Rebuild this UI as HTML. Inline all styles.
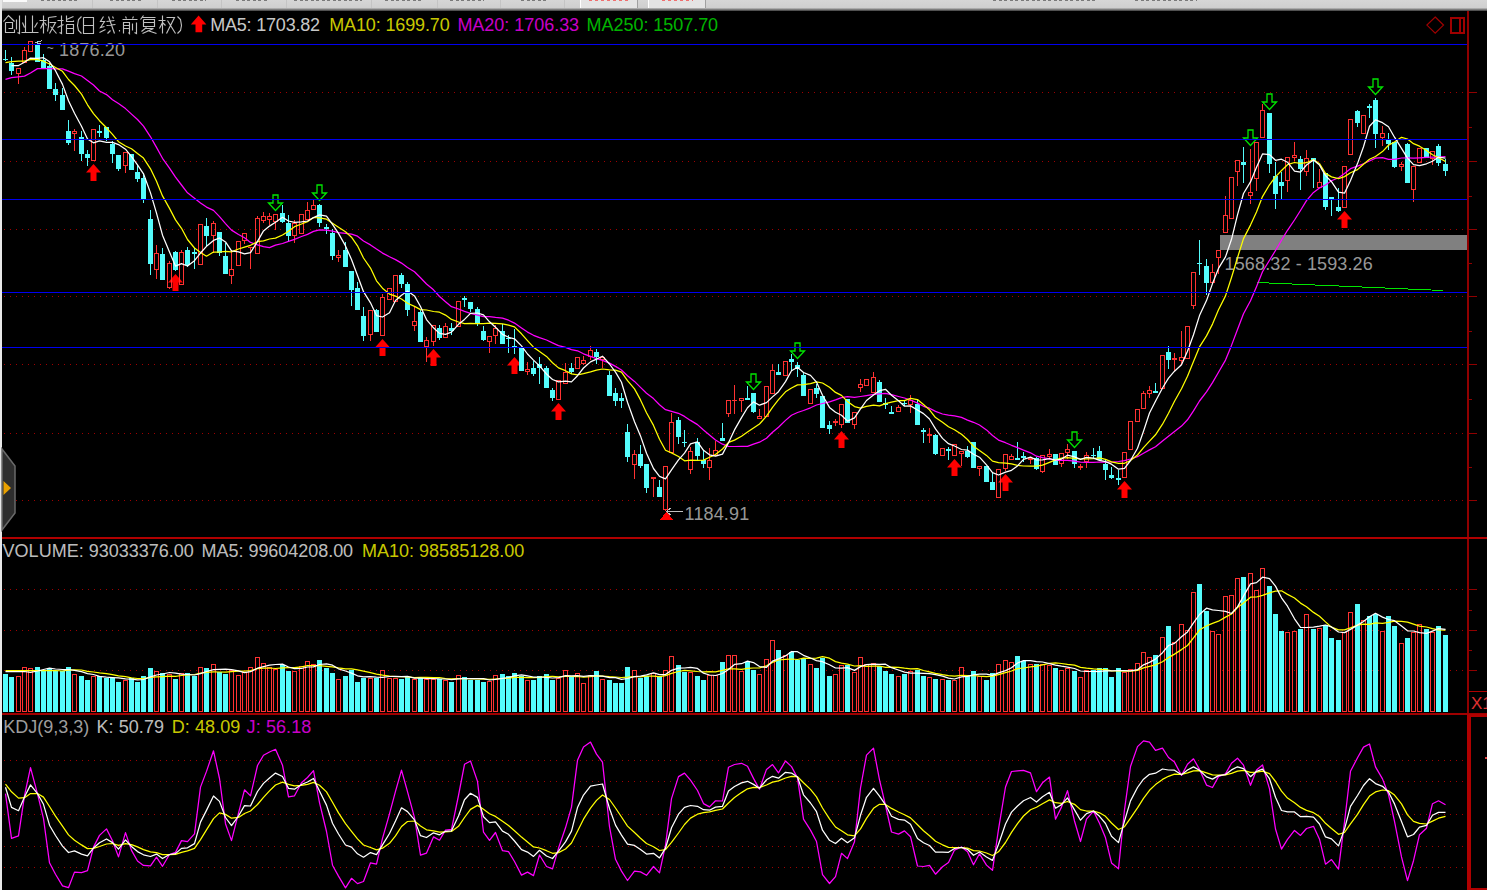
<!DOCTYPE html><html><head><meta charset="utf-8"><style>html,body{margin:0;padding:0;background:#000;overflow:hidden}body{width:1487px;height:890px;position:relative}svg{position:absolute;left:0;top:0}</style></head><body><svg width="1487" height="890" viewBox="0 0 1487 890" shape-rendering="crispEdges" font-family="Liberation Sans, sans-serif"><rect width="1487" height="890" fill="#000"/><defs><linearGradient id="tg" x1="0" y1="0" x2="0" y2="1"><stop offset="0" stop-color="#d6d6d6"/><stop offset="0.7" stop-color="#cfcfcf"/><stop offset="1" stop-color="#3a3a3a"/></linearGradient></defs><rect x="0" y="0" width="1487" height="11" fill="url(#tg)"/><rect x="3" y="0" width="24" height="2" fill="#fafafa"/><rect x="580" y="0" width="58" height="8" fill="#e4e4e4"/><rect x="648" y="0" width="58" height="8" fill="#e4e4e4"/><rect x="580" y="0" width="1" height="8" fill="#ffffff"/><rect x="637" y="0" width="1" height="8" fill="#a0a0a0"/><rect x="648" y="0" width="1" height="8" fill="#ffffff"/><rect x="705" y="0" width="1" height="8" fill="#a0a0a0"/><line x1="41" y1="0.75" x2="78" y2="0.75" stroke="#7a7a7a" stroke-width="1.2" stroke-dasharray="3 2.5"/><line x1="110" y1="0.75" x2="142" y2="0.75" stroke="#7a7a7a" stroke-width="1.2" stroke-dasharray="3 2.5"/><line x1="172" y1="0.75" x2="206" y2="0.75" stroke="#7a7a7a" stroke-width="1.2" stroke-dasharray="3 2.5"/><line x1="236" y1="0.75" x2="268" y2="0.75" stroke="#7a7a7a" stroke-width="1.2" stroke-dasharray="3 2.5"/><line x1="294" y1="0.75" x2="362" y2="0.75" stroke="#7a7a7a" stroke-width="1.2" stroke-dasharray="3 2.5"/><line x1="385" y1="0.75" x2="421" y2="0.75" stroke="#7a7a7a" stroke-width="1.2" stroke-dasharray="3 2.5"/><line x1="450" y1="0.75" x2="484" y2="0.75" stroke="#7a7a7a" stroke-width="1.2" stroke-dasharray="3 2.5"/><line x1="521" y1="0.75" x2="549" y2="0.75" stroke="#7a7a7a" stroke-width="1.2" stroke-dasharray="3 2.5"/><line x1="993" y1="0.75" x2="1097" y2="0.75" stroke="#7a7a7a" stroke-width="1.2" stroke-dasharray="3 2.5"/><line x1="1135" y1="0.75" x2="1197" y2="0.75" stroke="#7a7a7a" stroke-width="1.2" stroke-dasharray="3 2.5"/><line x1="589" y1="0.75" x2="628" y2="0.75" stroke="#f07070" stroke-width="1.2" stroke-dasharray="3 3"/><line x1="662" y1="0.75" x2="693" y2="0.75" stroke="#f07070" stroke-width="1.2" stroke-dasharray="3 3"/><rect x="92" y="0" width="1" height="8" fill="#c4c4c4"/><rect x="157" y="0" width="1" height="8" fill="#c4c4c4"/><rect x="221" y="0" width="1" height="8" fill="#c4c4c4"/><rect x="286" y="0" width="1" height="8" fill="#c4c4c4"/><rect x="371" y="0" width="1" height="8" fill="#c4c4c4"/><rect x="437" y="0" width="1" height="8" fill="#c4c4c4"/><rect x="500" y="0" width="1" height="8" fill="#c4c4c4"/><rect x="564" y="0" width="1" height="8" fill="#c4c4c4"/><rect x="0" y="0" width="2" height="890" fill="#e8e8e8"/><line x1="4" y1="92.5" x2="1466" y2="92.5" stroke="#a00000" stroke-width="1" stroke-dasharray="1 5"/><line x1="4" y1="161.5" x2="1466" y2="161.5" stroke="#a00000" stroke-width="1" stroke-dasharray="1 5"/><line x1="4" y1="229.5" x2="1466" y2="229.5" stroke="#a00000" stroke-width="1" stroke-dasharray="1 5"/><line x1="4" y1="296.5" x2="1466" y2="296.5" stroke="#a00000" stroke-width="1" stroke-dasharray="1 5"/><line x1="4" y1="364.5" x2="1466" y2="364.5" stroke="#a00000" stroke-width="1" stroke-dasharray="1 5"/><line x1="4" y1="433.5" x2="1466" y2="433.5" stroke="#a00000" stroke-width="1" stroke-dasharray="1 5"/><line x1="4" y1="500.5" x2="1466" y2="500.5" stroke="#a00000" stroke-width="1" stroke-dasharray="1 5"/><line x1="4" y1="589.5" x2="1466" y2="589.5" stroke="#a00000" stroke-width="1" stroke-dasharray="1 5"/><line x1="4" y1="630.5" x2="1466" y2="630.5" stroke="#a00000" stroke-width="1" stroke-dasharray="1 5"/><line x1="4" y1="670.5" x2="1466" y2="670.5" stroke="#a00000" stroke-width="1" stroke-dasharray="1 5"/><line x1="4" y1="760.5" x2="1466" y2="760.5" stroke="#a00000" stroke-width="1" stroke-dasharray="1 5"/><line x1="4" y1="781.5" x2="1466" y2="781.5" stroke="#a00000" stroke-width="1" stroke-dasharray="1 5"/><line x1="4" y1="814.5" x2="1466" y2="814.5" stroke="#a00000" stroke-width="1" stroke-dasharray="1 5"/><line x1="4" y1="846.5" x2="1466" y2="846.5" stroke="#a00000" stroke-width="1" stroke-dasharray="1 5"/><line x1="4" y1="867.5" x2="1466" y2="867.5" stroke="#a00000" stroke-width="1" stroke-dasharray="1 5"/><rect x="1467" y="11" width="2" height="879" fill="#900000"/><rect x="1469" y="92" width="8" height="1" fill="#900000"/><rect x="1469" y="161" width="8" height="1" fill="#900000"/><rect x="1469" y="229" width="8" height="1" fill="#900000"/><rect x="1469" y="296" width="8" height="1" fill="#900000"/><rect x="1469" y="364" width="8" height="1" fill="#900000"/><rect x="1469" y="433" width="8" height="1" fill="#900000"/><rect x="1469" y="500" width="8" height="1" fill="#900000"/><rect x="1469" y="127" width="3" height="1" fill="#900000"/><rect x="1469" y="196" width="3" height="1" fill="#900000"/><rect x="1469" y="263" width="3" height="1" fill="#900000"/><rect x="1469" y="331" width="3" height="1" fill="#900000"/><rect x="1469" y="399" width="3" height="1" fill="#900000"/><rect x="1469" y="467" width="3" height="1" fill="#900000"/><rect x="1469" y="589" width="8" height="1" fill="#900000"/><rect x="1469" y="630" width="8" height="1" fill="#900000"/><rect x="1469" y="670" width="8" height="1" fill="#900000"/><rect x="1469" y="610" width="3" height="1" fill="#900000"/><rect x="1469" y="650" width="3" height="1" fill="#900000"/><rect x="2" y="537" width="1485" height="2" fill="#b00000"/><rect x="2" y="713" width="1485" height="2" fill="#a00000"/><rect x="1469" y="691" width="18" height="1" fill="#b00000"/><text x="1471" y="709" font-size="17" fill="#e03030">X1</text><rect x="1467" y="714" width="4" height="176" fill="#b00000"/><rect x="1467" y="714" width="20" height="3" fill="#b00000"/><rect x="1471" y="888" width="16" height="2" fill="#b00000"/><rect x="1485" y="757" width="2" height="1.5" fill="#e04040"/><path d="M1435.2,17 L1443.5,25.1 L1435.2,33.2 L1426.9,25.1 Z" fill="none" stroke="#a00000" stroke-width="1.2" shape-rendering="auto"/><rect x="1450.5" y="18" width="13.5" height="15" fill="none" stroke="#a00000" stroke-width="2"/><rect x="1459" y="18" width="1.5" height="15" fill="#a00000"/><rect x="1220" y="235" width="247" height="15" fill="#808080"/><g shape-rendering="auto"><text x="1224.60" y="270.3" font-size="18" textLength="148.14" lengthAdjust="spacing" fill="#c0c0c0" fill-opacity="0.8" xml:space="preserve">1568.32 - 1593.26</text></g><polyline points="1257,282.5 1443,290.5" fill="none" stroke="#00e600" stroke-width="1"/><path shape-rendering="auto" d="M86.0,172.5 L93.5,164 L101.0,172.5 L96.5,172.5 L96.5,181 L90.5,181 L90.5,172.5 Z" fill="#ff0000"/><path shape-rendering="auto" d="M168.0,282.5 L175.5,274 L183.0,282.5 L178.5,282.5 L178.5,291 L172.5,291 L172.5,282.5 Z" fill="#ff0000"/><path shape-rendering="auto" d="M375.0,347.5 L382.5,339 L390.0,347.5 L385.5,347.5 L385.5,356 L379.5,356 L379.5,347.5 Z" fill="#ff0000"/><path shape-rendering="auto" d="M426.0,357.5 L433.5,349 L441.0,357.5 L436.5,357.5 L436.5,366 L430.5,366 L430.5,357.5 Z" fill="#ff0000"/><path shape-rendering="auto" d="M507.0,365.5 L514.5,357 L522.0,365.5 L517.5,365.5 L517.5,374 L511.5,374 L511.5,365.5 Z" fill="#ff0000"/><path shape-rendering="auto" d="M551.0,411.5 L558.5,403 L566.0,411.5 L561.5,411.5 L561.5,420 L555.5,420 L555.5,411.5 Z" fill="#ff0000"/><path shape-rendering="auto" d="M834.0,439.5 L841.5,431 L849.0,439.5 L844.5,439.5 L844.5,448 L838.5,448 L838.5,439.5 Z" fill="#ff0000"/><path shape-rendering="auto" d="M947.0,467.5 L954.5,459 L962.0,467.5 L957.5,467.5 L957.5,476 L951.5,476 L951.5,467.5 Z" fill="#ff0000"/><path shape-rendering="auto" d="M998.0,482.5 L1005.5,474 L1013.0,482.5 L1008.5,482.5 L1008.5,491 L1002.5,491 L1002.5,482.5 Z" fill="#ff0000"/><path shape-rendering="auto" d="M1117.0,489.5 L1124.5,481 L1132.0,489.5 L1127.5,489.5 L1127.5,498 L1121.5,498 L1121.5,489.5 Z" fill="#ff0000"/><path shape-rendering="auto" d="M1337.0,219.5 L1344.5,211 L1352.0,219.5 L1347.5,219.5 L1347.5,228 L1341.5,228 L1341.5,219.5 Z" fill="#ff0000"/><path shape-rendering="auto" d="M273.0,195.0 L278.0,195.0 L278.0,203.0 L282.5,203.0 L275.5,210.5 L268.5,203.0 L273.0,203.0 Z" fill="none" stroke="#00e600" stroke-width="1.3"/><path shape-rendering="auto" d="M317.0,185.0 L322.0,185.0 L322.0,193.0 L326.5,193.0 L319.5,200.5 L312.5,193.0 L317.0,193.0 Z" fill="none" stroke="#00e600" stroke-width="1.3"/><path shape-rendering="auto" d="M751.0,374.0 L756.0,374.0 L756.0,382.0 L760.5,382.0 L753.5,389.5 L746.5,382.0 L751.0,382.0 Z" fill="none" stroke="#00e600" stroke-width="1.3"/><path shape-rendering="auto" d="M795.0,343.0 L800.0,343.0 L800.0,351.0 L804.5,351.0 L797.5,358.5 L790.5,351.0 L795.0,351.0 Z" fill="none" stroke="#00e600" stroke-width="1.3"/><path shape-rendering="auto" d="M1072.0,432.0 L1077.0,432.0 L1077.0,440.0 L1081.5,440.0 L1074.5,447.5 L1067.5,440.0 L1072.0,440.0 Z" fill="none" stroke="#00e600" stroke-width="1.3"/><path shape-rendering="auto" d="M1248.0,130.0 L1253.0,130.0 L1253.0,138.0 L1257.5,138.0 L1250.5,145.5 L1243.5,138.0 L1248.0,138.0 Z" fill="none" stroke="#00e600" stroke-width="1.3"/><path shape-rendering="auto" d="M1267.0,94.0 L1272.0,94.0 L1272.0,102.0 L1276.5,102.0 L1269.5,109.5 L1262.5,102.0 L1267.0,102.0 Z" fill="none" stroke="#00e600" stroke-width="1.3"/><path shape-rendering="auto" d="M1373.0,79.0 L1378.0,79.0 L1378.0,87.0 L1382.5,87.0 L1375.5,94.5 L1368.5,87.0 L1373.0,87.0 Z" fill="none" stroke="#00e600" stroke-width="1.3"/><rect x="5" y="50" width="1" height="9" fill="#54fcfc"/><rect x="5" y="60" width="1" height="1" fill="#54fcfc"/><rect x="3" y="59" width="5" height="1" fill="#54fcfc"/><rect x="11" y="57" width="1" height="6" fill="#54fcfc"/><rect x="11" y="71" width="1" height="4" fill="#54fcfc"/><rect x="9" y="63" width="5" height="8" fill="#54fcfc"/><rect x="18" y="74" width="1" height="10" fill="#ff3232"/><rect x="16.5" y="68.5" width="4" height="5" fill="none" stroke="#ff3232"/><rect x="24" y="47" width="1" height="3" fill="#ff3232"/><rect x="22.5" y="50.5" width="4" height="12" fill="none" stroke="#ff3232"/><rect x="28.5" y="41.5" width="4" height="10" fill="none" stroke="#ff3232"/><rect x="37" y="41" width="1" height="4" fill="#54fcfc"/><rect x="35" y="45" width="5" height="17" fill="#54fcfc"/><rect x="43" y="54" width="1" height="6" fill="#54fcfc"/><rect x="41" y="60" width="5" height="8" fill="#54fcfc"/><rect x="49" y="63" width="1" height="3" fill="#54fcfc"/><rect x="47" y="66" width="5" height="23" fill="#54fcfc"/><rect x="55" y="83" width="1" height="6" fill="#54fcfc"/><rect x="55" y="95" width="1" height="6" fill="#54fcfc"/><rect x="53" y="89" width="5" height="6" fill="#54fcfc"/><rect x="62" y="88" width="1" height="7" fill="#54fcfc"/><rect x="60" y="95" width="5" height="15" fill="#54fcfc"/><rect x="68" y="120" width="1" height="11" fill="#54fcfc"/><rect x="68" y="143" width="1" height="2" fill="#54fcfc"/><rect x="66" y="131" width="5" height="12" fill="#54fcfc"/><rect x="74" y="129" width="1" height="2" fill="#ff3232"/><rect x="74" y="134" width="1" height="17" fill="#ff3232"/><rect x="72.5" y="131.5" width="4" height="2" fill="none" stroke="#ff3232"/><rect x="81" y="131" width="1" height="6" fill="#54fcfc"/><rect x="81" y="154" width="1" height="7" fill="#54fcfc"/><rect x="79" y="137" width="5" height="17" fill="#54fcfc"/><rect x="87" y="150" width="1" height="4" fill="#54fcfc"/><rect x="87" y="158" width="1" height="8" fill="#54fcfc"/><rect x="85" y="154" width="5" height="4" fill="#54fcfc"/><rect x="91.5" y="129.5" width="4" height="31" fill="none" stroke="#ff3232"/><rect x="99" y="125" width="1" height="6" fill="#54fcfc"/><rect x="99" y="133" width="1" height="4" fill="#54fcfc"/><rect x="97" y="131" width="5" height="2" fill="#54fcfc"/><rect x="106" y="138" width="1" height="3" fill="#54fcfc"/><rect x="104" y="127" width="5" height="11" fill="#54fcfc"/><rect x="112" y="141" width="1" height="3" fill="#54fcfc"/><rect x="112" y="154" width="1" height="9" fill="#54fcfc"/><rect x="110" y="144" width="5" height="10" fill="#54fcfc"/><rect x="118" y="169" width="1" height="2" fill="#54fcfc"/><rect x="116" y="155" width="5" height="14" fill="#54fcfc"/><rect x="125" y="166" width="1" height="7" fill="#ff3232"/><rect x="123.5" y="152.5" width="4" height="13" fill="none" stroke="#ff3232"/><rect x="129" y="154" width="5" height="16" fill="#54fcfc"/><rect x="137" y="165" width="1" height="7" fill="#54fcfc"/><rect x="137" y="179" width="1" height="3" fill="#54fcfc"/><rect x="135" y="172" width="5" height="7" fill="#54fcfc"/><rect x="143" y="173" width="1" height="5" fill="#54fcfc"/><rect x="143" y="199" width="1" height="4" fill="#54fcfc"/><rect x="141" y="178" width="5" height="21" fill="#54fcfc"/><rect x="150" y="210" width="1" height="9" fill="#54fcfc"/><rect x="150" y="264" width="1" height="11" fill="#54fcfc"/><rect x="148" y="219" width="5" height="45" fill="#54fcfc"/><rect x="156" y="245" width="1" height="8" fill="#ff3232"/><rect x="156" y="270" width="1" height="9" fill="#ff3232"/><rect x="154.5" y="253.5" width="4" height="16" fill="none" stroke="#ff3232"/><rect x="162" y="248" width="1" height="6" fill="#54fcfc"/><rect x="160" y="254" width="5" height="26" fill="#54fcfc"/><rect x="169" y="261" width="1" height="2" fill="#ff3232"/><rect x="169" y="288" width="1" height="1" fill="#ff3232"/><rect x="167.5" y="263.5" width="4" height="24" fill="none" stroke="#ff3232"/><rect x="175" y="251" width="1" height="1" fill="#54fcfc"/><rect x="175" y="270" width="1" height="1" fill="#54fcfc"/><rect x="173" y="252" width="5" height="18" fill="#54fcfc"/><rect x="181" y="250" width="1" height="2" fill="#ff3232"/><rect x="179.5" y="252.5" width="4" height="32" fill="none" stroke="#ff3232"/><rect x="187" y="247" width="1" height="3" fill="#54fcfc"/><rect x="187" y="265" width="1" height="2" fill="#54fcfc"/><rect x="185" y="250" width="5" height="15" fill="#54fcfc"/><rect x="194" y="248" width="1" height="4" fill="#54fcfc"/><rect x="194" y="254" width="1" height="15" fill="#54fcfc"/><rect x="192" y="252" width="5" height="2" fill="#54fcfc"/><rect x="198.5" y="224.5" width="4" height="40" fill="none" stroke="#ff3232"/><rect x="206" y="218" width="1" height="8" fill="#54fcfc"/><rect x="206" y="236" width="1" height="10" fill="#54fcfc"/><rect x="204" y="226" width="5" height="10" fill="#54fcfc"/><rect x="213" y="221" width="1" height="2" fill="#ff3232"/><rect x="213" y="236" width="1" height="17" fill="#ff3232"/><rect x="211.5" y="223.5" width="4" height="12" fill="none" stroke="#ff3232"/><rect x="219" y="253" width="1" height="3" fill="#54fcfc"/><rect x="217" y="232" width="5" height="21" fill="#54fcfc"/><rect x="225" y="243" width="1" height="13" fill="#54fcfc"/><rect x="223" y="256" width="5" height="18" fill="#54fcfc"/><rect x="231" y="250" width="1" height="19" fill="#ff3232"/><rect x="231" y="276" width="1" height="8" fill="#ff3232"/><rect x="229.5" y="269.5" width="4" height="6" fill="none" stroke="#ff3232"/><rect x="236.5" y="241.5" width="4" height="24" fill="none" stroke="#ff3232"/><rect x="244" y="241" width="1" height="3" fill="#ff3232"/><rect x="242.5" y="233.5" width="4" height="7" fill="none" stroke="#ff3232"/><rect x="250" y="248" width="1" height="21" fill="#ff3232"/><rect x="248" y="247" width="5" height="1" fill="#ff3232"/><rect x="257" y="216" width="1" height="2" fill="#ff3232"/><rect x="255.5" y="218.5" width="4" height="35" fill="none" stroke="#ff3232"/><rect x="263" y="212" width="1" height="4" fill="#ff3232"/><rect x="263" y="221" width="1" height="2" fill="#ff3232"/><rect x="261.5" y="216.5" width="4" height="4" fill="none" stroke="#ff3232"/><rect x="269" y="213" width="1" height="3" fill="#ff3232"/><rect x="269" y="220" width="1" height="5" fill="#ff3232"/><rect x="267.5" y="216.5" width="4" height="3" fill="none" stroke="#ff3232"/><rect x="275" y="222" width="1" height="8" fill="#ff3232"/><rect x="273.5" y="214.5" width="4" height="7" fill="none" stroke="#ff3232"/><rect x="282" y="205" width="1" height="8" fill="#54fcfc"/><rect x="282" y="222" width="1" height="1" fill="#54fcfc"/><rect x="280" y="213" width="5" height="9" fill="#54fcfc"/><rect x="288" y="215" width="1" height="8" fill="#54fcfc"/><rect x="288" y="236" width="1" height="5" fill="#54fcfc"/><rect x="286" y="223" width="5" height="13" fill="#54fcfc"/><rect x="294" y="220" width="1" height="3" fill="#ff3232"/><rect x="294" y="236" width="1" height="7" fill="#ff3232"/><rect x="292.5" y="223.5" width="4" height="12" fill="none" stroke="#ff3232"/><rect x="299.5" y="214.5" width="4" height="19" fill="none" stroke="#ff3232"/><rect x="307" y="202" width="1" height="8" fill="#ff3232"/><rect x="305.5" y="210.5" width="4" height="9" fill="none" stroke="#ff3232"/><rect x="313" y="200" width="1" height="5" fill="#ff3232"/><rect x="311.5" y="205.5" width="4" height="4" fill="none" stroke="#ff3232"/><rect x="319" y="204" width="1" height="1" fill="#54fcfc"/><rect x="319" y="223" width="1" height="4" fill="#54fcfc"/><rect x="317" y="205" width="5" height="18" fill="#54fcfc"/><rect x="326" y="224" width="1" height="3" fill="#54fcfc"/><rect x="326" y="229" width="1" height="5" fill="#54fcfc"/><rect x="324" y="227" width="5" height="2" fill="#54fcfc"/><rect x="332" y="229" width="1" height="4" fill="#54fcfc"/><rect x="332" y="256" width="1" height="4" fill="#54fcfc"/><rect x="330" y="233" width="5" height="23" fill="#54fcfc"/><rect x="338" y="250" width="1" height="5" fill="#ff3232"/><rect x="338" y="258" width="1" height="4" fill="#ff3232"/><rect x="336.5" y="255.5" width="4" height="2" fill="none" stroke="#ff3232"/><rect x="345" y="242" width="1" height="8" fill="#54fcfc"/><rect x="343" y="250" width="5" height="17" fill="#54fcfc"/><rect x="351" y="290" width="1" height="16" fill="#54fcfc"/><rect x="349" y="271" width="5" height="19" fill="#54fcfc"/><rect x="357" y="282" width="1" height="6" fill="#54fcfc"/><rect x="355" y="288" width="5" height="22" fill="#54fcfc"/><rect x="363" y="307" width="1" height="9" fill="#54fcfc"/><rect x="363" y="336" width="1" height="5" fill="#54fcfc"/><rect x="361" y="316" width="5" height="20" fill="#54fcfc"/><rect x="370" y="335" width="1" height="6" fill="#ff3232"/><rect x="368.5" y="310.5" width="4" height="24" fill="none" stroke="#ff3232"/><rect x="376" y="309" width="1" height="1" fill="#54fcfc"/><rect x="374" y="310" width="5" height="22" fill="#54fcfc"/><rect x="382" y="294" width="1" height="3" fill="#ff3232"/><rect x="380.5" y="297.5" width="4" height="38" fill="none" stroke="#ff3232"/><rect x="387.5" y="288.5" width="4" height="11" fill="none" stroke="#ff3232"/><rect x="393.5" y="275.5" width="4" height="26" fill="none" stroke="#ff3232"/><rect x="401" y="273" width="1" height="2" fill="#54fcfc"/><rect x="401" y="284" width="1" height="4" fill="#54fcfc"/><rect x="399" y="275" width="5" height="9" fill="#54fcfc"/><rect x="407" y="282" width="1" height="2" fill="#54fcfc"/><rect x="407" y="310" width="1" height="6" fill="#54fcfc"/><rect x="405" y="284" width="5" height="26" fill="#54fcfc"/><rect x="414" y="306" width="1" height="15" fill="#ff3232"/><rect x="414" y="326" width="1" height="5" fill="#ff3232"/><rect x="412.5" y="321.5" width="4" height="4" fill="none" stroke="#ff3232"/><rect x="420" y="310" width="1" height="2" fill="#54fcfc"/><rect x="418" y="312" width="5" height="30" fill="#54fcfc"/><rect x="426" y="337" width="1" height="3" fill="#ff3232"/><rect x="426" y="347" width="1" height="15" fill="#ff3232"/><rect x="424.5" y="340.5" width="4" height="6" fill="none" stroke="#ff3232"/><rect x="433" y="342" width="1" height="4" fill="#ff3232"/><rect x="431.5" y="325.5" width="4" height="16" fill="none" stroke="#ff3232"/><rect x="439" y="325" width="1" height="3" fill="#54fcfc"/><rect x="439" y="338" width="1" height="2" fill="#54fcfc"/><rect x="437" y="328" width="5" height="10" fill="#54fcfc"/><rect x="445" y="323" width="1" height="3" fill="#ff3232"/><rect x="443.5" y="326.5" width="4" height="11" fill="none" stroke="#ff3232"/><rect x="451" y="323" width="1" height="5" fill="#54fcfc"/><rect x="451" y="331" width="1" height="4" fill="#54fcfc"/><rect x="449" y="328" width="5" height="3" fill="#54fcfc"/><rect x="456.5" y="301.5" width="4" height="25" fill="none" stroke="#ff3232"/><rect x="464" y="296" width="1" height="2" fill="#54fcfc"/><rect x="464" y="300" width="1" height="7" fill="#54fcfc"/><rect x="462" y="298" width="5" height="2" fill="#54fcfc"/><rect x="470" y="309" width="1" height="3" fill="#54fcfc"/><rect x="468" y="302" width="5" height="7" fill="#54fcfc"/><rect x="477" y="307" width="1" height="2" fill="#54fcfc"/><rect x="477" y="324" width="1" height="2" fill="#54fcfc"/><rect x="475" y="309" width="5" height="15" fill="#54fcfc"/><rect x="483" y="326" width="1" height="5" fill="#54fcfc"/><rect x="483" y="340" width="1" height="1" fill="#54fcfc"/><rect x="481" y="331" width="5" height="9" fill="#54fcfc"/><rect x="489" y="342" width="1" height="11" fill="#ff3232"/><rect x="487.5" y="336.5" width="4" height="5" fill="none" stroke="#ff3232"/><rect x="495" y="325" width="1" height="3" fill="#ff3232"/><rect x="495" y="336" width="1" height="8" fill="#ff3232"/><rect x="493.5" y="328.5" width="4" height="7" fill="none" stroke="#ff3232"/><rect x="502" y="324" width="1" height="7" fill="#54fcfc"/><rect x="500" y="331" width="5" height="13" fill="#54fcfc"/><rect x="508" y="335" width="1" height="3" fill="#54fcfc"/><rect x="508" y="339" width="1" height="14" fill="#54fcfc"/><rect x="506" y="338" width="5" height="1" fill="#54fcfc"/><rect x="514" y="329" width="1" height="17" fill="#54fcfc"/><rect x="514" y="348" width="1" height="6" fill="#54fcfc"/><rect x="512" y="346" width="5" height="2" fill="#54fcfc"/><rect x="519" y="347" width="5" height="24" fill="#54fcfc"/><rect x="527" y="362" width="1" height="7" fill="#ff3232"/><rect x="527" y="372" width="1" height="3" fill="#ff3232"/><rect x="525.5" y="369.5" width="4" height="2" fill="none" stroke="#ff3232"/><rect x="533" y="361" width="1" height="7" fill="#54fcfc"/><rect x="533" y="374" width="1" height="2" fill="#54fcfc"/><rect x="531" y="368" width="5" height="6" fill="#54fcfc"/><rect x="539" y="357" width="1" height="7" fill="#54fcfc"/><rect x="539" y="368" width="1" height="16" fill="#54fcfc"/><rect x="537" y="364" width="5" height="4" fill="#54fcfc"/><rect x="546" y="366" width="1" height="2" fill="#54fcfc"/><rect x="544" y="368" width="5" height="20" fill="#54fcfc"/><rect x="552" y="388" width="1" height="2" fill="#54fcfc"/><rect x="552" y="398" width="1" height="3" fill="#54fcfc"/><rect x="550" y="390" width="5" height="8" fill="#54fcfc"/><rect x="556.5" y="380.5" width="4" height="19" fill="none" stroke="#ff3232"/><rect x="565" y="363" width="1" height="9" fill="#ff3232"/><rect x="563.5" y="372.5" width="4" height="11" fill="none" stroke="#ff3232"/><rect x="571" y="363" width="1" height="5" fill="#54fcfc"/><rect x="571" y="372" width="1" height="2" fill="#54fcfc"/><rect x="569" y="368" width="5" height="4" fill="#54fcfc"/><rect x="575.5" y="357.5" width="4" height="11" fill="none" stroke="#ff3232"/><rect x="583" y="356" width="1" height="4" fill="#ff3232"/><rect x="583" y="364" width="1" height="1" fill="#ff3232"/><rect x="581.5" y="360.5" width="4" height="3" fill="none" stroke="#ff3232"/><rect x="590" y="346" width="1" height="4" fill="#ff3232"/><rect x="590" y="357" width="1" height="3" fill="#ff3232"/><rect x="588.5" y="350.5" width="4" height="6" fill="none" stroke="#ff3232"/><rect x="596" y="349" width="1" height="3" fill="#54fcfc"/><rect x="596" y="357" width="1" height="7" fill="#54fcfc"/><rect x="594" y="352" width="5" height="5" fill="#54fcfc"/><rect x="602" y="360" width="1" height="8" fill="#ff3232"/><rect x="600.5" y="357.5" width="4" height="2" fill="none" stroke="#ff3232"/><rect x="609" y="371" width="1" height="4" fill="#54fcfc"/><rect x="607" y="375" width="5" height="21" fill="#54fcfc"/><rect x="615" y="388" width="1" height="5" fill="#54fcfc"/><rect x="615" y="401" width="1" height="5" fill="#54fcfc"/><rect x="613" y="393" width="5" height="8" fill="#54fcfc"/><rect x="621" y="393" width="1" height="5" fill="#54fcfc"/><rect x="621" y="401" width="1" height="7" fill="#54fcfc"/><rect x="619" y="398" width="5" height="3" fill="#54fcfc"/><rect x="627" y="424" width="1" height="8" fill="#54fcfc"/><rect x="627" y="457" width="1" height="5" fill="#54fcfc"/><rect x="625" y="432" width="5" height="25" fill="#54fcfc"/><rect x="634" y="450" width="1" height="4" fill="#ff3232"/><rect x="634" y="465" width="1" height="14" fill="#ff3232"/><rect x="632.5" y="454.5" width="4" height="10" fill="none" stroke="#ff3232"/><rect x="640" y="445" width="1" height="9" fill="#54fcfc"/><rect x="640" y="466" width="1" height="2" fill="#54fcfc"/><rect x="638" y="454" width="5" height="12" fill="#54fcfc"/><rect x="646" y="488" width="1" height="5" fill="#54fcfc"/><rect x="644" y="464" width="5" height="24" fill="#54fcfc"/><rect x="653" y="479" width="1" height="18" fill="#ff3232"/><rect x="651" y="477" width="5" height="2" fill="#ff3232"/><rect x="659" y="480" width="1" height="7" fill="#54fcfc"/><rect x="657" y="487" width="5" height="10" fill="#54fcfc"/><rect x="665" y="510" width="1" height="1" fill="#ff3232"/><rect x="663.5" y="466.5" width="4" height="43" fill="none" stroke="#ff3232"/><rect x="671" y="413" width="1" height="9" fill="#ff3232"/><rect x="669.5" y="422.5" width="4" height="30" fill="none" stroke="#ff3232"/><rect x="678" y="417" width="1" height="3" fill="#54fcfc"/><rect x="678" y="437" width="1" height="7" fill="#54fcfc"/><rect x="676" y="420" width="5" height="17" fill="#54fcfc"/><rect x="684" y="430" width="1" height="12" fill="#54fcfc"/><rect x="684" y="443" width="1" height="4" fill="#54fcfc"/><rect x="682" y="442" width="5" height="1" fill="#54fcfc"/><rect x="690" y="447" width="1" height="4" fill="#ff3232"/><rect x="690" y="470" width="1" height="4" fill="#ff3232"/><rect x="688.5" y="451.5" width="4" height="18" fill="none" stroke="#ff3232"/><rect x="697" y="438" width="1" height="4" fill="#54fcfc"/><rect x="697" y="456" width="1" height="5" fill="#54fcfc"/><rect x="695" y="442" width="5" height="14" fill="#54fcfc"/><rect x="703" y="450" width="1" height="10" fill="#54fcfc"/><rect x="703" y="464" width="1" height="4" fill="#54fcfc"/><rect x="701" y="460" width="5" height="4" fill="#54fcfc"/><rect x="709" y="448" width="1" height="12" fill="#ff3232"/><rect x="709" y="468" width="1" height="12" fill="#ff3232"/><rect x="707.5" y="460.5" width="4" height="7" fill="none" stroke="#ff3232"/><rect x="715" y="441" width="1" height="9" fill="#ff3232"/><rect x="713.5" y="450.5" width="4" height="5" fill="none" stroke="#ff3232"/><rect x="722" y="423" width="1" height="15" fill="#54fcfc"/><rect x="720" y="438" width="5" height="3" fill="#54fcfc"/><rect x="728" y="414" width="1" height="3" fill="#ff3232"/><rect x="726.5" y="400.5" width="4" height="13" fill="none" stroke="#ff3232"/><rect x="734" y="385" width="1" height="15" fill="#ff3232"/><rect x="734" y="401" width="1" height="13" fill="#ff3232"/><rect x="732" y="400" width="5" height="1" fill="#ff3232"/><rect x="741" y="401" width="1" height="11" fill="#ff3232"/><rect x="739.5" y="398.5" width="4" height="2" fill="none" stroke="#ff3232"/><rect x="747" y="386" width="1" height="12" fill="#54fcfc"/><rect x="745" y="398" width="5" height="2" fill="#54fcfc"/><rect x="753" y="412" width="1" height="1" fill="#54fcfc"/><rect x="751" y="393" width="5" height="19" fill="#54fcfc"/><rect x="759" y="409" width="1" height="7" fill="#ff3232"/><rect x="757.5" y="416.5" width="4" height="2" fill="none" stroke="#ff3232"/><rect x="764.5" y="386.5" width="4" height="30" fill="none" stroke="#ff3232"/><rect x="772" y="364" width="1" height="6" fill="#ff3232"/><rect x="770.5" y="370.5" width="4" height="23" fill="none" stroke="#ff3232"/><rect x="778" y="364" width="1" height="8" fill="#54fcfc"/><rect x="776" y="372" width="5" height="3" fill="#54fcfc"/><rect x="783.5" y="361.5" width="4" height="14" fill="none" stroke="#ff3232"/><rect x="791" y="354" width="1" height="5" fill="#54fcfc"/><rect x="791" y="362" width="1" height="9" fill="#54fcfc"/><rect x="789" y="359" width="5" height="3" fill="#54fcfc"/><rect x="797" y="362" width="1" height="3" fill="#54fcfc"/><rect x="797" y="368" width="1" height="9" fill="#54fcfc"/><rect x="795" y="365" width="5" height="3" fill="#54fcfc"/><rect x="803" y="373" width="1" height="2" fill="#54fcfc"/><rect x="801" y="375" width="5" height="21" fill="#54fcfc"/><rect x="808.5" y="389.5" width="4" height="14" fill="none" stroke="#ff3232"/><rect x="816" y="384" width="1" height="4" fill="#54fcfc"/><rect x="816" y="394" width="1" height="4" fill="#54fcfc"/><rect x="814" y="388" width="5" height="6" fill="#54fcfc"/><rect x="820" y="396" width="5" height="32" fill="#54fcfc"/><rect x="829" y="421" width="1" height="4" fill="#54fcfc"/><rect x="829" y="429" width="1" height="5" fill="#54fcfc"/><rect x="827" y="425" width="5" height="4" fill="#54fcfc"/><rect x="835" y="419" width="1" height="2" fill="#ff3232"/><rect x="835" y="423" width="1" height="3" fill="#ff3232"/><rect x="833" y="421" width="5" height="2" fill="#ff3232"/><rect x="841" y="425" width="1" height="3" fill="#ff3232"/><rect x="839.5" y="404.5" width="4" height="20" fill="none" stroke="#ff3232"/><rect x="845" y="399" width="5" height="24" fill="#54fcfc"/><rect x="854" y="425" width="1" height="4" fill="#ff3232"/><rect x="852.5" y="412.5" width="4" height="12" fill="none" stroke="#ff3232"/><rect x="860" y="379" width="1" height="5" fill="#ff3232"/><rect x="860" y="388" width="1" height="4" fill="#ff3232"/><rect x="858.5" y="384.5" width="4" height="3" fill="none" stroke="#ff3232"/><rect x="864.5" y="379.5" width="4" height="6" fill="none" stroke="#ff3232"/><rect x="873" y="372" width="1" height="5" fill="#ff3232"/><rect x="871.5" y="377.5" width="4" height="15" fill="none" stroke="#ff3232"/><rect x="879" y="380" width="1" height="2" fill="#54fcfc"/><rect x="877" y="382" width="5" height="20" fill="#54fcfc"/><rect x="885" y="398" width="1" height="5" fill="#54fcfc"/><rect x="885" y="405" width="1" height="4" fill="#54fcfc"/><rect x="883" y="403" width="5" height="2" fill="#54fcfc"/><rect x="891" y="406" width="1" height="6" fill="#54fcfc"/><rect x="889" y="412" width="5" height="2" fill="#54fcfc"/><rect x="898" y="405" width="1" height="2" fill="#ff3232"/><rect x="896.5" y="407.5" width="4" height="4" fill="none" stroke="#ff3232"/><rect x="904" y="400" width="1" height="3" fill="#54fcfc"/><rect x="904" y="404" width="1" height="2" fill="#54fcfc"/><rect x="902" y="403" width="5" height="1" fill="#54fcfc"/><rect x="910" y="395" width="1" height="5" fill="#ff3232"/><rect x="910" y="405" width="1" height="8" fill="#ff3232"/><rect x="908.5" y="400.5" width="4" height="4" fill="none" stroke="#ff3232"/><rect x="917" y="399" width="1" height="5" fill="#54fcfc"/><rect x="915" y="404" width="5" height="21" fill="#54fcfc"/><rect x="923" y="428" width="1" height="2" fill="#54fcfc"/><rect x="923" y="432" width="1" height="11" fill="#54fcfc"/><rect x="921" y="430" width="5" height="2" fill="#54fcfc"/><rect x="929" y="428" width="1" height="6" fill="#ff3232"/><rect x="929" y="436" width="1" height="7" fill="#ff3232"/><rect x="927" y="434" width="5" height="2" fill="#ff3232"/><rect x="935" y="434" width="1" height="1" fill="#54fcfc"/><rect x="935" y="454" width="1" height="1" fill="#54fcfc"/><rect x="933" y="435" width="5" height="19" fill="#54fcfc"/><rect x="940.5" y="448.5" width="4" height="7" fill="none" stroke="#ff3232"/><rect x="948" y="447" width="1" height="2" fill="#54fcfc"/><rect x="948" y="451" width="1" height="9" fill="#54fcfc"/><rect x="946" y="449" width="5" height="2" fill="#54fcfc"/><rect x="952.5" y="444.5" width="4" height="11" fill="none" stroke="#ff3232"/><rect x="961" y="454" width="1" height="12" fill="#ff3232"/><rect x="959.5" y="451.5" width="4" height="2" fill="none" stroke="#ff3232"/><rect x="967" y="446" width="1" height="5" fill="#54fcfc"/><rect x="967" y="457" width="1" height="1" fill="#54fcfc"/><rect x="965" y="451" width="5" height="6" fill="#54fcfc"/><rect x="971" y="442" width="5" height="26" fill="#54fcfc"/><rect x="979" y="469" width="1" height="7" fill="#ff3232"/><rect x="977.5" y="466.5" width="4" height="2" fill="none" stroke="#ff3232"/><rect x="984" y="466" width="5" height="16" fill="#54fcfc"/><rect x="992" y="472" width="1" height="10" fill="#54fcfc"/><rect x="990" y="482" width="5" height="8" fill="#54fcfc"/><rect x="996.5" y="469.5" width="4" height="28" fill="none" stroke="#ff3232"/><rect x="1005" y="469" width="1" height="2" fill="#ff3232"/><rect x="1003.5" y="454.5" width="4" height="14" fill="none" stroke="#ff3232"/><rect x="1011" y="454" width="1" height="2" fill="#ff3232"/><rect x="1009.5" y="456.5" width="4" height="3" fill="none" stroke="#ff3232"/><rect x="1017" y="442" width="1" height="16" fill="#54fcfc"/><rect x="1015" y="458" width="5" height="2" fill="#54fcfc"/><rect x="1023" y="452" width="1" height="4" fill="#54fcfc"/><rect x="1023" y="458" width="1" height="4" fill="#54fcfc"/><rect x="1021" y="456" width="5" height="2" fill="#54fcfc"/><rect x="1030" y="460" width="1" height="4" fill="#ff3232"/><rect x="1028" y="458" width="5" height="2" fill="#ff3232"/><rect x="1036" y="457" width="1" height="1" fill="#54fcfc"/><rect x="1036" y="469" width="1" height="1" fill="#54fcfc"/><rect x="1034" y="458" width="5" height="11" fill="#54fcfc"/><rect x="1042" y="472" width="1" height="1" fill="#ff3232"/><rect x="1040.5" y="455.5" width="4" height="16" fill="none" stroke="#ff3232"/><rect x="1049" y="449" width="1" height="5" fill="#ff3232"/><rect x="1049" y="457" width="1" height="1" fill="#ff3232"/><rect x="1047.5" y="454.5" width="4" height="2" fill="none" stroke="#ff3232"/><rect x="1053" y="454" width="5" height="11" fill="#54fcfc"/><rect x="1061" y="464" width="1" height="3" fill="#ff3232"/><rect x="1059.5" y="453.5" width="4" height="10" fill="none" stroke="#ff3232"/><rect x="1067" y="444" width="1" height="5" fill="#ff3232"/><rect x="1067" y="453" width="1" height="6" fill="#ff3232"/><rect x="1065.5" y="449.5" width="4" height="3" fill="none" stroke="#ff3232"/><rect x="1074" y="464" width="1" height="4" fill="#54fcfc"/><rect x="1072" y="451" width="5" height="13" fill="#54fcfc"/><rect x="1080" y="464" width="1" height="2" fill="#ff3232"/><rect x="1080" y="468" width="1" height="2" fill="#ff3232"/><rect x="1078" y="466" width="5" height="2" fill="#ff3232"/><rect x="1086" y="452" width="1" height="3" fill="#ff3232"/><rect x="1086" y="462" width="1" height="6" fill="#ff3232"/><rect x="1084.5" y="455.5" width="4" height="6" fill="none" stroke="#ff3232"/><rect x="1093" y="448" width="1" height="7" fill="#54fcfc"/><rect x="1093" y="456" width="1" height="3" fill="#54fcfc"/><rect x="1091" y="455" width="5" height="1" fill="#54fcfc"/><rect x="1099" y="446" width="1" height="5" fill="#54fcfc"/><rect x="1099" y="460" width="1" height="1" fill="#54fcfc"/><rect x="1097" y="451" width="5" height="9" fill="#54fcfc"/><rect x="1105" y="460" width="1" height="4" fill="#54fcfc"/><rect x="1105" y="470" width="1" height="10" fill="#54fcfc"/><rect x="1103" y="464" width="5" height="6" fill="#54fcfc"/><rect x="1111" y="467" width="1" height="8" fill="#54fcfc"/><rect x="1111" y="478" width="1" height="1" fill="#54fcfc"/><rect x="1109" y="475" width="5" height="3" fill="#54fcfc"/><rect x="1118" y="470" width="1" height="8" fill="#54fcfc"/><rect x="1118" y="480" width="1" height="5" fill="#54fcfc"/><rect x="1116" y="478" width="5" height="2" fill="#54fcfc"/><rect x="1122.5" y="452.5" width="4" height="25" fill="none" stroke="#ff3232"/><rect x="1128.5" y="421.5" width="4" height="28" fill="none" stroke="#ff3232"/><rect x="1135.5" y="409.5" width="4" height="12" fill="none" stroke="#ff3232"/><rect x="1143" y="391" width="1" height="2" fill="#ff3232"/><rect x="1141.5" y="393.5" width="4" height="15" fill="none" stroke="#ff3232"/><rect x="1149" y="386" width="1" height="4" fill="#ff3232"/><rect x="1149" y="394" width="1" height="4" fill="#ff3232"/><rect x="1147.5" y="390.5" width="4" height="3" fill="none" stroke="#ff3232"/><rect x="1155" y="383" width="1" height="8" fill="#54fcfc"/><rect x="1153" y="391" width="5" height="2" fill="#54fcfc"/><rect x="1160.5" y="355.5" width="4" height="33" fill="none" stroke="#ff3232"/><rect x="1168" y="346" width="1" height="6" fill="#54fcfc"/><rect x="1168" y="360" width="1" height="9" fill="#54fcfc"/><rect x="1166" y="352" width="5" height="8" fill="#54fcfc"/><rect x="1174" y="353" width="1" height="5" fill="#ff3232"/><rect x="1174" y="360" width="1" height="11" fill="#ff3232"/><rect x="1172" y="358" width="5" height="2" fill="#ff3232"/><rect x="1181" y="331" width="1" height="26" fill="#ff3232"/><rect x="1181" y="361" width="1" height="3" fill="#ff3232"/><rect x="1179.5" y="357.5" width="4" height="3" fill="none" stroke="#ff3232"/><rect x="1185.5" y="326.5" width="4" height="32" fill="none" stroke="#ff3232"/><rect x="1193" y="306" width="1" height="3" fill="#ff3232"/><rect x="1191.5" y="272.5" width="4" height="33" fill="none" stroke="#ff3232"/><rect x="1199" y="240" width="1" height="23" fill="#54fcfc"/><rect x="1199" y="264" width="1" height="11" fill="#54fcfc"/><rect x="1197" y="263" width="5" height="1" fill="#54fcfc"/><rect x="1206" y="259" width="1" height="7" fill="#54fcfc"/><rect x="1206" y="283" width="1" height="12" fill="#54fcfc"/><rect x="1204" y="266" width="5" height="17" fill="#54fcfc"/><rect x="1212" y="264" width="1" height="8" fill="#ff3232"/><rect x="1210.5" y="272.5" width="4" height="10" fill="none" stroke="#ff3232"/><rect x="1218" y="258" width="1" height="16" fill="#ff3232"/><rect x="1216.5" y="250.5" width="4" height="7" fill="none" stroke="#ff3232"/><rect x="1225" y="196" width="1" height="19" fill="#ff3232"/><rect x="1223.5" y="215.5" width="4" height="17" fill="none" stroke="#ff3232"/><rect x="1229.5" y="177.5" width="4" height="41" fill="none" stroke="#ff3232"/><rect x="1237" y="172" width="1" height="14" fill="#ff3232"/><rect x="1235.5" y="160.5" width="4" height="11" fill="none" stroke="#ff3232"/><rect x="1243" y="147" width="1" height="15" fill="#54fcfc"/><rect x="1243" y="165" width="1" height="18" fill="#54fcfc"/><rect x="1241" y="162" width="5" height="3" fill="#54fcfc"/><rect x="1250" y="149" width="1" height="43" fill="#ff3232"/><rect x="1250" y="196" width="1" height="8" fill="#ff3232"/><rect x="1248.5" y="192.5" width="4" height="3" fill="none" stroke="#ff3232"/><rect x="1256" y="179" width="1" height="12" fill="#ff3232"/><rect x="1254.5" y="142.5" width="4" height="36" fill="none" stroke="#ff3232"/><rect x="1262" y="104" width="1" height="6" fill="#ff3232"/><rect x="1260.5" y="110.5" width="4" height="27" fill="none" stroke="#ff3232"/><rect x="1269" y="164" width="1" height="9" fill="#54fcfc"/><rect x="1267" y="113" width="5" height="51" fill="#54fcfc"/><rect x="1275" y="162" width="1" height="14" fill="#54fcfc"/><rect x="1275" y="194" width="1" height="15" fill="#54fcfc"/><rect x="1273" y="176" width="5" height="18" fill="#54fcfc"/><rect x="1281" y="172" width="1" height="10" fill="#54fcfc"/><rect x="1281" y="186" width="1" height="13" fill="#54fcfc"/><rect x="1279" y="182" width="5" height="4" fill="#54fcfc"/><rect x="1287" y="181" width="1" height="11" fill="#ff3232"/><rect x="1285.5" y="157.5" width="4" height="23" fill="none" stroke="#ff3232"/><rect x="1294" y="142" width="1" height="13" fill="#ff3232"/><rect x="1294" y="158" width="1" height="3" fill="#ff3232"/><rect x="1292.5" y="155.5" width="4" height="2" fill="none" stroke="#ff3232"/><rect x="1300" y="156" width="1" height="3" fill="#54fcfc"/><rect x="1300" y="169" width="1" height="21" fill="#54fcfc"/><rect x="1298" y="159" width="5" height="10" fill="#54fcfc"/><rect x="1306" y="150" width="1" height="8" fill="#ff3232"/><rect x="1306" y="172" width="1" height="4" fill="#ff3232"/><rect x="1304.5" y="158.5" width="4" height="13" fill="none" stroke="#ff3232"/><rect x="1313" y="161" width="1" height="27" fill="#54fcfc"/><rect x="1311" y="158" width="5" height="3" fill="#54fcfc"/><rect x="1319" y="169" width="1" height="13" fill="#ff3232"/><rect x="1317.5" y="182.5" width="4" height="5" fill="none" stroke="#ff3232"/><rect x="1325" y="207" width="1" height="3" fill="#54fcfc"/><rect x="1323" y="173" width="5" height="34" fill="#54fcfc"/><rect x="1331" y="199" width="1" height="17" fill="#54fcfc"/><rect x="1329" y="197" width="5" height="2" fill="#54fcfc"/><rect x="1338" y="188" width="1" height="19" fill="#54fcfc"/><rect x="1338" y="211" width="1" height="1" fill="#54fcfc"/><rect x="1336" y="207" width="5" height="4" fill="#54fcfc"/><rect x="1342.5" y="166.5" width="4" height="41" fill="none" stroke="#ff3232"/><rect x="1348.5" y="119.5" width="4" height="35" fill="none" stroke="#ff3232"/><rect x="1357" y="110" width="1" height="1" fill="#54fcfc"/><rect x="1357" y="123" width="1" height="4" fill="#54fcfc"/><rect x="1355" y="111" width="5" height="12" fill="#54fcfc"/><rect x="1361.5" y="115.5" width="4" height="18" fill="none" stroke="#ff3232"/><rect x="1369" y="104" width="1" height="2" fill="#54fcfc"/><rect x="1369" y="108" width="1" height="10" fill="#54fcfc"/><rect x="1367" y="106" width="5" height="2" fill="#54fcfc"/><rect x="1375" y="98" width="1" height="2" fill="#54fcfc"/><rect x="1375" y="134" width="1" height="14" fill="#54fcfc"/><rect x="1373" y="100" width="5" height="34" fill="#54fcfc"/><rect x="1382" y="126" width="1" height="7" fill="#ff3232"/><rect x="1382" y="138" width="1" height="8" fill="#ff3232"/><rect x="1380.5" y="133.5" width="4" height="4" fill="none" stroke="#ff3232"/><rect x="1388" y="133" width="1" height="7" fill="#54fcfc"/><rect x="1388" y="144" width="1" height="6" fill="#54fcfc"/><rect x="1386" y="140" width="5" height="4" fill="#54fcfc"/><rect x="1394" y="167" width="1" height="1" fill="#54fcfc"/><rect x="1392" y="142" width="5" height="25" fill="#54fcfc"/><rect x="1401" y="162" width="1" height="2" fill="#ff3232"/><rect x="1401" y="167" width="1" height="4" fill="#ff3232"/><rect x="1399.5" y="164.5" width="4" height="2" fill="none" stroke="#ff3232"/><rect x="1407" y="143" width="1" height="1" fill="#54fcfc"/><rect x="1405" y="144" width="5" height="39" fill="#54fcfc"/><rect x="1413" y="190" width="1" height="12" fill="#ff3232"/><rect x="1411.5" y="166.5" width="4" height="23" fill="none" stroke="#ff3232"/><rect x="1417.5" y="148.5" width="4" height="14" fill="none" stroke="#ff3232"/><rect x="1424" y="148" width="5" height="10" fill="#54fcfc"/><rect x="1432" y="159" width="1" height="6" fill="#ff3232"/><rect x="1430.5" y="151.5" width="4" height="7" fill="none" stroke="#ff3232"/><rect x="1438" y="144" width="1" height="2" fill="#54fcfc"/><rect x="1438" y="163" width="1" height="3" fill="#54fcfc"/><rect x="1436" y="146" width="5" height="17" fill="#54fcfc"/><rect x="1445" y="159" width="1" height="5" fill="#54fcfc"/><rect x="1445" y="171" width="1" height="5" fill="#54fcfc"/><rect x="1443" y="164" width="5" height="7" fill="#54fcfc"/><g shape-rendering="crispEdges"><polyline points="5.5,79.3 11.5,77.7 18.5,76.9 24.5,76.1 30.5,73.0 37.5,68.6 43.5,68.6 49.5,68.7 55.5,68.8 62.5,68.8 68.5,71.2 74.5,73.6 81.5,76.0 87.5,80.5 93.5,85.0 99.5,91.0 106.5,94.6 112.5,99.7 118.5,103.6 125.5,108.6 131.5,114.1 137.5,119.5 143.5,126.1 150.5,136.8 156.5,147.4 162.5,158.3 169.5,168.1 175.5,177.1 181.5,185.0 187.5,192.8 194.5,198.3 200.5,203.0 206.5,207.1 213.5,210.4 219.5,216.6 225.5,223.6 231.5,230.1 238.5,234.5 244.5,237.7 250.5,242.4 257.5,244.8 263.5,246.7 269.5,247.6 275.5,245.1 282.5,243.5 288.5,241.3 294.5,239.3 301.5,236.5 307.5,234.4 313.5,231.4 319.5,229.8 326.5,230.1 332.5,231.1 338.5,232.7 345.5,233.4 351.5,234.2 357.5,236.2 363.5,241.0 370.5,244.9 376.5,249.1 382.5,253.1 389.5,256.7 395.5,259.6 401.5,263.1 407.5,267.5 414.5,271.8 420.5,277.7 426.5,284.0 433.5,289.8 439.5,296.5 445.5,301.7 451.5,306.7 458.5,309.0 464.5,311.3 470.5,313.4 477.5,315.1 483.5,316.6 489.5,316.6 495.5,317.4 502.5,318.1 508.5,320.2 514.5,323.1 521.5,327.9 527.5,332.1 533.5,335.3 539.5,337.7 546.5,340.0 552.5,342.9 558.5,345.6 565.5,347.3 571.5,349.6 577.5,350.8 583.5,353.8 590.5,356.3 596.5,358.7 602.5,360.3 609.5,363.1 615.5,366.4 621.5,370.0 627.5,375.7 634.5,381.4 640.5,387.4 646.5,393.2 653.5,398.6 659.5,404.7 665.5,409.7 671.5,411.4 678.5,413.3 684.5,416.4 690.5,420.4 697.5,424.6 703.5,430.0 709.5,435.0 715.5,440.0 722.5,444.2 728.5,446.3 734.5,446.5 741.5,446.4 747.5,446.4 753.5,444.1 759.5,442.2 766.5,438.2 772.5,432.3 778.5,427.2 785.5,420.4 791.5,415.2 797.5,412.5 803.5,410.5 810.5,407.8 816.5,405.0 822.5,403.5 829.5,401.8 835.5,399.8 841.5,397.6 847.5,396.7 854.5,397.3 860.5,396.5 866.5,395.6 873.5,394.4 879.5,393.9 885.5,393.3 891.5,394.7 898.5,396.5 904.5,398.0 910.5,400.0 917.5,403.1 923.5,406.3 929.5,408.2 935.5,411.4 942.5,414.0 948.5,415.2 954.5,415.9 961.5,417.4 967.5,420.1 973.5,422.3 979.5,425.0 986.5,429.9 992.5,435.5 998.5,440.1 1005.5,442.7 1011.5,445.3 1017.5,447.6 1023.5,450.1 1030.5,452.8 1036.5,456.2 1042.5,457.7 1049.5,458.8 1055.5,460.4 1061.5,460.3 1067.5,460.4 1074.5,461.1 1080.5,462.2 1086.5,462.4 1093.5,462.3 1099.5,462.0 1105.5,462.2 1111.5,462.0 1118.5,461.5 1124.5,460.7 1130.5,459.0 1137.5,456.7 1143.5,453.3 1149.5,449.9 1155.5,446.7 1162.5,441.0 1168.5,436.3 1174.5,431.5 1181.5,426.1 1187.5,419.8 1193.5,410.9 1199.5,401.0 1206.5,391.8 1212.5,382.6 1218.5,372.3 1225.5,360.1 1231.5,345.4 1237.5,329.5 1243.5,313.7 1250.5,300.7 1256.5,286.7 1262.5,271.8 1269.5,260.3 1275.5,250.5 1281.5,240.2 1287.5,230.3 1294.5,220.0 1300.5,210.5 1306.5,200.6 1313.5,192.4 1319.5,187.9 1325.5,185.0 1331.5,180.8 1338.5,177.8 1344.5,173.6 1350.5,168.7 1357.5,166.1 1363.5,163.8 1369.5,161.0 1375.5,158.1 1382.5,157.6 1388.5,159.3 1394.5,159.4 1401.5,158.0 1407.5,157.8 1413.5,158.2 1419.5,157.9 1426.5,157.4 1432.5,157.0 1438.5,157.1 1445.5,156.5" fill="none" stroke="#ff00ff" stroke-width="1.25" stroke-linejoin="round" shape-rendering="auto"/><polyline points="5.5,62.7 11.5,61.6 18.5,61.2 24.5,61.2 30.5,59.6 37.5,59.6 43.5,61.2 49.5,64.0 55.5,67.5 62.5,71.3 68.5,79.5 74.5,85.5 81.5,94.1 87.5,104.8 93.5,113.6 99.5,120.7 106.5,127.8 112.5,134.3 118.5,141.7 125.5,146.0 131.5,148.7 137.5,153.6 143.5,158.1 150.5,168.8 156.5,181.2 162.5,195.9 169.5,208.4 175.5,219.9 181.5,228.3 187.5,239.5 194.5,248.0 200.5,252.5 206.5,256.2 213.5,252.0 219.5,252.0 225.5,251.3 231.5,251.9 238.5,249.0 244.5,247.2 250.5,245.3 257.5,241.7 263.5,240.9 269.5,239.0 275.5,238.1 282.5,235.0 288.5,231.2 294.5,226.7 301.5,224.0 307.5,221.7 313.5,217.5 319.5,217.9 326.5,219.2 332.5,223.2 338.5,227.2 345.5,231.8 351.5,237.2 357.5,245.8 363.5,258.0 370.5,268.1 376.5,280.8 382.5,288.2 389.5,294.1 395.5,296.1 401.5,299.0 407.5,303.3 414.5,306.4 420.5,309.6 426.5,310.0 433.5,311.5 439.5,312.2 445.5,315.1 451.5,319.4 458.5,322.0 464.5,323.6 470.5,323.4 477.5,323.7 483.5,323.6 489.5,323.1 495.5,323.3 502.5,323.9 508.5,325.2 514.5,326.9 521.5,333.8 527.5,340.6 533.5,347.2 539.5,351.6 546.5,356.4 552.5,362.7 558.5,367.9 565.5,370.7 571.5,373.9 577.5,374.8 583.5,373.7 590.5,371.9 596.5,370.1 602.5,369.0 609.5,369.8 615.5,370.1 621.5,372.1 627.5,380.7 634.5,388.9 640.5,399.9 646.5,412.7 653.5,425.4 659.5,439.3 665.5,450.3 671.5,452.9 678.5,456.5 684.5,460.8 690.5,460.1 697.5,460.4 703.5,460.1 709.5,457.3 715.5,454.6 722.5,449.0 728.5,442.3 734.5,440.1 741.5,436.2 747.5,432.0 753.5,428.0 759.5,424.0 766.5,416.2 772.5,407.3 778.5,399.7 785.5,391.8 791.5,388.0 797.5,384.9 803.5,384.7 810.5,383.6 816.5,381.9 822.5,383.0 829.5,387.3 835.5,392.4 841.5,395.4 847.5,401.6 854.5,406.6 860.5,408.1 866.5,406.4 873.5,405.2 879.5,405.9 885.5,403.6 891.5,402.1 898.5,400.6 904.5,400.6 910.5,398.3 917.5,399.6 923.5,404.5 929.5,409.9 935.5,417.6 942.5,422.2 948.5,426.8 954.5,429.8 961.5,434.3 967.5,439.5 973.5,446.3 979.5,450.4 986.5,455.4 992.5,461.1 998.5,462.6 1005.5,463.2 1011.5,463.8 1017.5,465.3 1023.5,466.0 1030.5,466.1 1036.5,466.1 1042.5,465.1 1049.5,462.3 1055.5,459.8 1061.5,458.1 1067.5,457.6 1074.5,458.4 1080.5,459.0 1086.5,458.8 1093.5,458.6 1099.5,457.8 1105.5,459.3 1111.5,461.8 1118.5,463.3 1124.5,463.3 1130.5,460.5 1137.5,455.0 1143.5,447.7 1149.5,441.1 1155.5,434.8 1162.5,424.2 1168.5,413.2 1174.5,401.2 1181.5,388.8 1187.5,376.2 1193.5,361.4 1199.5,346.9 1206.5,335.9 1212.5,324.1 1218.5,309.8 1225.5,295.9 1231.5,277.5 1237.5,257.7 1243.5,238.6 1250.5,225.1 1256.5,212.1 1262.5,196.6 1269.5,184.8 1275.5,176.9 1281.5,170.5 1287.5,164.7 1294.5,162.5 1300.5,163.3 1306.5,162.7 1313.5,159.6 1319.5,163.7 1325.5,173.4 1331.5,176.9 1338.5,178.6 1344.5,176.6 1350.5,172.8 1357.5,169.6 1363.5,164.2 1369.5,159.2 1375.5,156.5 1382.5,151.6 1388.5,145.2 1394.5,142.0 1401.5,137.3 1407.5,139.0 1413.5,143.7 1419.5,146.2 1426.5,150.5 1432.5,154.8 1438.5,157.6 1445.5,161.5" fill="none" stroke="#ffff00" stroke-width="1.25" stroke-linejoin="round" shape-rendering="auto"/><polyline points="11.5,65.5 18.5,65.5 24.5,62.3 30.5,58.1 37.5,58.3 43.5,57.7 49.5,61.8 55.5,70.7 62.5,84.4 68.5,100.7 74.5,113.3 81.5,126.3 87.5,138.9 93.5,142.8 99.5,140.8 106.5,142.3 112.5,142.3 118.5,144.6 125.5,149.2 131.5,156.6 137.5,164.8 143.5,173.8 150.5,192.9 156.5,213.1 162.5,235.2 169.5,252.0 175.5,266.1 181.5,263.6 187.5,266.0 194.5,260.7 200.5,253.0 206.5,246.3 213.5,240.4 219.5,238.0 225.5,241.9 231.5,250.9 238.5,251.8 244.5,253.9 250.5,252.7 257.5,241.4 263.5,230.9 269.5,226.1 275.5,222.3 282.5,217.3 288.5,221.0 294.5,222.4 301.5,221.9 307.5,221.0 313.5,217.6 319.5,214.9 326.5,216.1 332.5,224.4 338.5,233.4 345.5,245.9 351.5,259.5 357.5,275.5 363.5,291.7 370.5,302.8 376.5,315.6 382.5,317.0 389.5,312.8 395.5,300.5 401.5,295.2 407.5,291.0 414.5,295.9 420.5,306.5 426.5,319.6 433.5,327.8 439.5,333.4 445.5,334.3 451.5,332.2 458.5,324.3 464.5,319.4 470.5,313.4 477.5,313.0 483.5,314.9 489.5,321.8 495.5,327.3 502.5,334.4 508.5,337.3 514.5,338.8 521.5,345.9 527.5,354.0 533.5,360.1 539.5,365.9 546.5,374.0 552.5,379.5 558.5,381.8 565.5,381.2 571.5,381.9 577.5,375.7 583.5,368.0 590.5,361.9 596.5,359.1 602.5,356.2 609.5,364.0 615.5,372.1 621.5,382.3 627.5,402.3 634.5,421.7 640.5,435.9 646.5,453.3 653.5,468.5 659.5,476.4 665.5,478.8 671.5,469.9 678.5,459.8 684.5,453.1 690.5,443.9 697.5,441.9 703.5,450.3 709.5,454.8 715.5,456.2 722.5,454.1 728.5,442.8 734.5,429.9 741.5,417.6 747.5,407.7 753.5,401.9 759.5,405.2 766.5,402.6 772.5,396.9 778.5,391.7 785.5,381.6 791.5,370.8 797.5,367.2 803.5,372.5 810.5,375.4 816.5,382.1 822.5,395.2 829.5,407.4 835.5,412.3 841.5,415.3 847.5,421.1 854.5,417.9 860.5,408.9 866.5,400.5 873.5,395.1 879.5,390.7 885.5,389.3 891.5,395.3 898.5,400.8 904.5,406.2 910.5,405.9 917.5,410.0 923.5,413.6 929.5,419.0 935.5,428.9 942.5,438.4 948.5,443.7 954.5,446.0 961.5,449.5 967.5,450.1 973.5,454.2 979.5,457.2 986.5,464.8 992.5,472.6 998.5,475.0 1005.5,472.2 1011.5,470.3 1017.5,465.9 1023.5,459.3 1030.5,457.1 1036.5,460.0 1042.5,459.8 1049.5,458.7 1055.5,460.2 1061.5,459.1 1067.5,455.2 1074.5,456.9 1080.5,459.3 1086.5,457.3 1093.5,458.1 1099.5,460.4 1105.5,461.7 1111.5,464.2 1118.5,469.2 1124.5,468.4 1130.5,460.5 1137.5,448.3 1143.5,431.2 1149.5,413.0 1155.5,401.2 1162.5,388.0 1168.5,378.2 1174.5,371.2 1181.5,364.7 1187.5,351.3 1193.5,334.8 1199.5,315.6 1206.5,300.6 1212.5,283.6 1218.5,268.4 1225.5,256.9 1231.5,239.3 1237.5,214.9 1243.5,193.5 1250.5,181.9 1256.5,167.2 1262.5,153.9 1269.5,154.6 1275.5,160.3 1281.5,159.2 1287.5,162.2 1294.5,171.1 1300.5,172.1 1306.5,165.0 1313.5,160.0 1319.5,165.1 1325.5,175.6 1331.5,181.7 1338.5,192.2 1344.5,193.2 1350.5,180.4 1357.5,163.6 1363.5,146.8 1369.5,126.3 1375.5,119.9 1382.5,122.7 1388.5,126.8 1394.5,137.2 1401.5,148.4 1407.5,158.1 1413.5,164.7 1419.5,165.7 1426.5,163.8 1432.5,161.2 1438.5,157.1 1445.5,158.2" fill="none" stroke="#ffffff" stroke-width="1.25" stroke-linejoin="round" shape-rendering="auto"/></g><path d="M42.5,40.5 L36.5,42.5 L42.5,44.5" fill="none" stroke="#c0c0c0" stroke-width="1"/><line x1="36" y1="44.5" x2="56" y2="44.5" stroke="#c0c0c0"/><g shape-rendering="auto"><text x="59.00" y="56.1" font-size="18" textLength="66.03" lengthAdjust="spacing" fill="#c0c0c0" fill-opacity="0.8" xml:space="preserve">1876.20</text><text x="46.80" y="52.0" font-size="12" textLength="13.10" lengthAdjust="spacing" fill="#c0c0c0" fill-opacity="0.8" xml:space="preserve">~</text></g><path d="M660,519.5 L666.5,512 L673,519.5 Z" fill="#ff0000"/><line x1="666" y1="511.5" x2="683" y2="511.5" stroke="#c0c0c0"/><path d="M670.5,508 L666.5,511.5 L670.5,515" fill="none" stroke="#c0c0c0"/><g shape-rendering="auto"><text x="684.60" y="519.8" font-size="18" textLength="64.58" lengthAdjust="spacing" fill="#c0c0c0" fill-opacity="0.8" xml:space="preserve">1184.91</text></g><rect x="3" y="674" width="5" height="38" fill="#54fcfc"/><rect x="9" y="677" width="5" height="35" fill="#54fcfc"/><rect x="16.5" y="676.5" width="4" height="35" fill="none" stroke="#ff3232"/><rect x="22.5" y="667.5" width="4" height="44" fill="none" stroke="#ff3232"/><rect x="28.5" y="668.5" width="4" height="43" fill="none" stroke="#ff3232"/><rect x="35" y="667" width="5" height="45" fill="#54fcfc"/><rect x="41" y="670" width="5" height="42" fill="#54fcfc"/><rect x="47" y="669" width="5" height="43" fill="#54fcfc"/><rect x="53" y="671" width="5" height="41" fill="#54fcfc"/><rect x="60" y="671" width="5" height="41" fill="#54fcfc"/><rect x="66" y="667" width="5" height="45" fill="#54fcfc"/><rect x="72.5" y="674.5" width="4" height="37" fill="none" stroke="#ff3232"/><rect x="79" y="676" width="5" height="36" fill="#54fcfc"/><rect x="85" y="680" width="5" height="32" fill="#54fcfc"/><rect x="91.5" y="676.5" width="4" height="35" fill="none" stroke="#ff3232"/><rect x="97" y="676" width="5" height="36" fill="#54fcfc"/><rect x="104" y="678" width="5" height="34" fill="#54fcfc"/><rect x="110" y="678" width="5" height="34" fill="#54fcfc"/><rect x="116" y="682" width="5" height="30" fill="#54fcfc"/><rect x="123.5" y="680.5" width="4" height="31" fill="none" stroke="#ff3232"/><rect x="129" y="678" width="5" height="34" fill="#54fcfc"/><rect x="135" y="682" width="5" height="30" fill="#54fcfc"/><rect x="141" y="676" width="5" height="36" fill="#54fcfc"/><rect x="148" y="668" width="5" height="44" fill="#54fcfc"/><rect x="154.5" y="671.5" width="4" height="40" fill="none" stroke="#ff3232"/><rect x="160" y="673" width="5" height="39" fill="#54fcfc"/><rect x="167.5" y="674.5" width="4" height="37" fill="none" stroke="#ff3232"/><rect x="173" y="679" width="5" height="33" fill="#54fcfc"/><rect x="179.5" y="673.5" width="4" height="38" fill="none" stroke="#ff3232"/><rect x="185" y="673" width="5" height="39" fill="#54fcfc"/><rect x="192" y="676" width="5" height="36" fill="#54fcfc"/><rect x="198.5" y="667.5" width="4" height="44" fill="none" stroke="#ff3232"/><rect x="204" y="668" width="5" height="44" fill="#54fcfc"/><rect x="211.5" y="664.5" width="4" height="47" fill="none" stroke="#ff3232"/><rect x="217" y="672" width="5" height="40" fill="#54fcfc"/><rect x="223" y="674" width="5" height="38" fill="#54fcfc"/><rect x="229.5" y="670.5" width="4" height="41" fill="none" stroke="#ff3232"/><rect x="236.5" y="675.5" width="4" height="36" fill="none" stroke="#ff3232"/><rect x="242.5" y="672.5" width="4" height="39" fill="none" stroke="#ff3232"/><rect x="248.5" y="667.5" width="4" height="44" fill="none" stroke="#ff3232"/><rect x="255.5" y="657.5" width="4" height="54" fill="none" stroke="#ff3232"/><rect x="261.5" y="663.5" width="4" height="48" fill="none" stroke="#ff3232"/><rect x="267.5" y="667.5" width="4" height="44" fill="none" stroke="#ff3232"/><rect x="273.5" y="669.5" width="4" height="42" fill="none" stroke="#ff3232"/><rect x="280" y="665" width="5" height="47" fill="#54fcfc"/><rect x="286" y="671" width="5" height="41" fill="#54fcfc"/><rect x="292.5" y="671.5" width="4" height="40" fill="none" stroke="#ff3232"/><rect x="299.5" y="666.5" width="4" height="45" fill="none" stroke="#ff3232"/><rect x="305.5" y="661.5" width="4" height="50" fill="none" stroke="#ff3232"/><rect x="311.5" y="664.5" width="4" height="47" fill="none" stroke="#ff3232"/><rect x="317" y="660" width="5" height="52" fill="#54fcfc"/><rect x="324" y="668" width="5" height="44" fill="#54fcfc"/><rect x="330" y="673" width="5" height="39" fill="#54fcfc"/><rect x="336.5" y="679.5" width="4" height="32" fill="none" stroke="#ff3232"/><rect x="343" y="676" width="5" height="36" fill="#54fcfc"/><rect x="349" y="670" width="5" height="42" fill="#54fcfc"/><rect x="355" y="682" width="5" height="30" fill="#54fcfc"/><rect x="361" y="678" width="5" height="34" fill="#54fcfc"/><rect x="368.5" y="678.5" width="4" height="33" fill="none" stroke="#ff3232"/><rect x="374" y="678" width="5" height="34" fill="#54fcfc"/><rect x="380.5" y="670.5" width="4" height="41" fill="none" stroke="#ff3232"/><rect x="387.5" y="678.5" width="4" height="33" fill="none" stroke="#ff3232"/><rect x="393.5" y="678.5" width="4" height="33" fill="none" stroke="#ff3232"/><rect x="399" y="679" width="5" height="33" fill="#54fcfc"/><rect x="405" y="677" width="5" height="35" fill="#54fcfc"/><rect x="412.5" y="679.5" width="4" height="32" fill="none" stroke="#ff3232"/><rect x="418" y="678" width="5" height="34" fill="#54fcfc"/><rect x="424.5" y="679.5" width="4" height="32" fill="none" stroke="#ff3232"/><rect x="431.5" y="679.5" width="4" height="32" fill="none" stroke="#ff3232"/><rect x="437" y="679" width="5" height="33" fill="#54fcfc"/><rect x="443.5" y="680.5" width="4" height="31" fill="none" stroke="#ff3232"/><rect x="449" y="682" width="5" height="30" fill="#54fcfc"/><rect x="456.5" y="675.5" width="4" height="36" fill="none" stroke="#ff3232"/><rect x="462" y="677" width="5" height="35" fill="#54fcfc"/><rect x="468" y="680" width="5" height="32" fill="#54fcfc"/><rect x="475" y="680" width="5" height="32" fill="#54fcfc"/><rect x="481" y="682" width="5" height="30" fill="#54fcfc"/><rect x="487.5" y="681.5" width="4" height="30" fill="none" stroke="#ff3232"/><rect x="493.5" y="675.5" width="4" height="36" fill="none" stroke="#ff3232"/><rect x="500" y="674" width="5" height="38" fill="#54fcfc"/><rect x="506" y="676" width="5" height="36" fill="#54fcfc"/><rect x="512" y="673" width="5" height="39" fill="#54fcfc"/><rect x="519" y="676" width="5" height="36" fill="#54fcfc"/><rect x="525.5" y="680.5" width="4" height="31" fill="none" stroke="#ff3232"/><rect x="531" y="680" width="5" height="32" fill="#54fcfc"/><rect x="537" y="676" width="5" height="36" fill="#54fcfc"/><rect x="544" y="674" width="5" height="38" fill="#54fcfc"/><rect x="550" y="680" width="5" height="32" fill="#54fcfc"/><rect x="556.5" y="678.5" width="4" height="33" fill="none" stroke="#ff3232"/><rect x="563.5" y="670.5" width="4" height="41" fill="none" stroke="#ff3232"/><rect x="569" y="677" width="5" height="35" fill="#54fcfc"/><rect x="575.5" y="673.5" width="4" height="38" fill="none" stroke="#ff3232"/><rect x="581.5" y="683.5" width="4" height="28" fill="none" stroke="#ff3232"/><rect x="588.5" y="675.5" width="4" height="36" fill="none" stroke="#ff3232"/><rect x="594" y="671" width="5" height="41" fill="#54fcfc"/><rect x="600.5" y="679.5" width="4" height="32" fill="none" stroke="#ff3232"/><rect x="607" y="680" width="5" height="32" fill="#54fcfc"/><rect x="613" y="683" width="5" height="29" fill="#54fcfc"/><rect x="619" y="683" width="5" height="29" fill="#54fcfc"/><rect x="625" y="667" width="5" height="45" fill="#54fcfc"/><rect x="632.5" y="670.5" width="4" height="41" fill="none" stroke="#ff3232"/><rect x="638" y="678" width="5" height="34" fill="#54fcfc"/><rect x="644" y="676" width="5" height="36" fill="#54fcfc"/><rect x="651.5" y="673.5" width="4" height="38" fill="none" stroke="#ff3232"/><rect x="657" y="676" width="5" height="36" fill="#54fcfc"/><rect x="663.5" y="670.5" width="4" height="41" fill="none" stroke="#ff3232"/><rect x="669.5" y="656.5" width="4" height="55" fill="none" stroke="#ff3232"/><rect x="676" y="665" width="5" height="47" fill="#54fcfc"/><rect x="682" y="672" width="5" height="40" fill="#54fcfc"/><rect x="688.5" y="672.5" width="4" height="39" fill="none" stroke="#ff3232"/><rect x="695" y="676" width="5" height="36" fill="#54fcfc"/><rect x="701" y="680" width="5" height="32" fill="#54fcfc"/><rect x="707.5" y="675.5" width="4" height="36" fill="none" stroke="#ff3232"/><rect x="713.5" y="675.5" width="4" height="36" fill="none" stroke="#ff3232"/><rect x="720" y="662" width="5" height="50" fill="#54fcfc"/><rect x="726.5" y="655.5" width="4" height="56" fill="none" stroke="#ff3232"/><rect x="732.5" y="655.5" width="4" height="56" fill="none" stroke="#ff3232"/><rect x="739.5" y="671.5" width="4" height="40" fill="none" stroke="#ff3232"/><rect x="745" y="662" width="5" height="50" fill="#54fcfc"/><rect x="751" y="670" width="5" height="42" fill="#54fcfc"/><rect x="757.5" y="674.5" width="4" height="37" fill="none" stroke="#ff3232"/><rect x="764.5" y="659.5" width="4" height="52" fill="none" stroke="#ff3232"/><rect x="770.5" y="640.5" width="4" height="71" fill="none" stroke="#ff3232"/><rect x="776" y="650" width="5" height="62" fill="#54fcfc"/><rect x="783.5" y="655.5" width="4" height="56" fill="none" stroke="#ff3232"/><rect x="789" y="652" width="5" height="60" fill="#54fcfc"/><rect x="795" y="660" width="5" height="52" fill="#54fcfc"/><rect x="801" y="658" width="5" height="54" fill="#54fcfc"/><rect x="808.5" y="664.5" width="4" height="47" fill="none" stroke="#ff3232"/><rect x="814" y="668" width="5" height="44" fill="#54fcfc"/><rect x="820" y="658" width="5" height="54" fill="#54fcfc"/><rect x="827" y="676" width="5" height="36" fill="#54fcfc"/><rect x="833.5" y="674.5" width="4" height="37" fill="none" stroke="#ff3232"/><rect x="839.5" y="665.5" width="4" height="46" fill="none" stroke="#ff3232"/><rect x="845" y="665" width="5" height="47" fill="#54fcfc"/><rect x="852.5" y="672.5" width="4" height="39" fill="none" stroke="#ff3232"/><rect x="858.5" y="657.5" width="4" height="54" fill="none" stroke="#ff3232"/><rect x="864.5" y="664.5" width="4" height="47" fill="none" stroke="#ff3232"/><rect x="871.5" y="663.5" width="4" height="48" fill="none" stroke="#ff3232"/><rect x="877" y="666" width="5" height="46" fill="#54fcfc"/><rect x="883" y="671" width="5" height="41" fill="#54fcfc"/><rect x="889" y="674" width="5" height="38" fill="#54fcfc"/><rect x="896.5" y="676.5" width="4" height="35" fill="none" stroke="#ff3232"/><rect x="902" y="674" width="5" height="38" fill="#54fcfc"/><rect x="908.5" y="671.5" width="4" height="40" fill="none" stroke="#ff3232"/><rect x="915" y="670" width="5" height="42" fill="#54fcfc"/><rect x="921" y="676" width="5" height="36" fill="#54fcfc"/><rect x="927.5" y="677.5" width="4" height="34" fill="none" stroke="#ff3232"/><rect x="933" y="679" width="5" height="33" fill="#54fcfc"/><rect x="940.5" y="679.5" width="4" height="32" fill="none" stroke="#ff3232"/><rect x="946" y="680" width="5" height="32" fill="#54fcfc"/><rect x="952.5" y="680.5" width="4" height="31" fill="none" stroke="#ff3232"/><rect x="959.5" y="667.5" width="4" height="44" fill="none" stroke="#ff3232"/><rect x="965" y="676" width="5" height="36" fill="#54fcfc"/><rect x="971" y="671" width="5" height="41" fill="#54fcfc"/><rect x="977.5" y="676.5" width="4" height="35" fill="none" stroke="#ff3232"/><rect x="984" y="680" width="5" height="32" fill="#54fcfc"/><rect x="990" y="673" width="5" height="39" fill="#54fcfc"/><rect x="996.5" y="664.5" width="4" height="47" fill="none" stroke="#ff3232"/><rect x="1003.5" y="660.5" width="4" height="51" fill="none" stroke="#ff3232"/><rect x="1009.5" y="662.5" width="4" height="49" fill="none" stroke="#ff3232"/><rect x="1015" y="656" width="5" height="56" fill="#54fcfc"/><rect x="1021" y="661" width="5" height="51" fill="#54fcfc"/><rect x="1028.5" y="664.5" width="4" height="47" fill="none" stroke="#ff3232"/><rect x="1034" y="664" width="5" height="48" fill="#54fcfc"/><rect x="1040.5" y="664.5" width="4" height="47" fill="none" stroke="#ff3232"/><rect x="1047.5" y="665.5" width="4" height="46" fill="none" stroke="#ff3232"/><rect x="1053" y="668" width="5" height="44" fill="#54fcfc"/><rect x="1059.5" y="670.5" width="4" height="41" fill="none" stroke="#ff3232"/><rect x="1065.5" y="668.5" width="4" height="43" fill="none" stroke="#ff3232"/><rect x="1072" y="671" width="5" height="41" fill="#54fcfc"/><rect x="1078.5" y="677.5" width="4" height="34" fill="none" stroke="#ff3232"/><rect x="1084.5" y="670.5" width="4" height="41" fill="none" stroke="#ff3232"/><rect x="1091" y="670" width="5" height="42" fill="#54fcfc"/><rect x="1097" y="668" width="5" height="44" fill="#54fcfc"/><rect x="1103" y="668" width="5" height="44" fill="#54fcfc"/><rect x="1109" y="677" width="5" height="35" fill="#54fcfc"/><rect x="1116" y="668" width="5" height="44" fill="#54fcfc"/><rect x="1122.5" y="672.5" width="4" height="39" fill="none" stroke="#ff3232"/><rect x="1128.5" y="669.5" width="4" height="42" fill="none" stroke="#ff3232"/><rect x="1135.5" y="663.5" width="4" height="48" fill="none" stroke="#ff3232"/><rect x="1141.5" y="652.5" width="4" height="59" fill="none" stroke="#ff3232"/><rect x="1147.5" y="657.5" width="4" height="54" fill="none" stroke="#ff3232"/><rect x="1153" y="655" width="5" height="57" fill="#54fcfc"/><rect x="1160.5" y="637.5" width="4" height="74" fill="none" stroke="#ff3232"/><rect x="1166" y="626" width="5" height="86" fill="#54fcfc"/><rect x="1172.5" y="642.5" width="4" height="69" fill="none" stroke="#ff3232"/><rect x="1179.5" y="624.5" width="4" height="87" fill="none" stroke="#ff3232"/><rect x="1185.5" y="630.5" width="4" height="81" fill="none" stroke="#ff3232"/><rect x="1191.5" y="592.5" width="4" height="119" fill="none" stroke="#ff3232"/><rect x="1197" y="584" width="5" height="128" fill="#54fcfc"/><rect x="1204" y="611" width="5" height="101" fill="#54fcfc"/><rect x="1210.5" y="631.5" width="4" height="80" fill="none" stroke="#ff3232"/><rect x="1216.5" y="634.5" width="4" height="77" fill="none" stroke="#ff3232"/><rect x="1223.5" y="596.5" width="4" height="115" fill="none" stroke="#ff3232"/><rect x="1229.5" y="595.5" width="4" height="116" fill="none" stroke="#ff3232"/><rect x="1235.5" y="578.5" width="4" height="133" fill="none" stroke="#ff3232"/><rect x="1241" y="577" width="5" height="135" fill="#54fcfc"/><rect x="1248.5" y="573.5" width="4" height="138" fill="none" stroke="#ff3232"/><rect x="1254.5" y="590.5" width="4" height="121" fill="none" stroke="#ff3232"/><rect x="1260.5" y="568.5" width="4" height="143" fill="none" stroke="#ff3232"/><rect x="1267" y="586" width="5" height="126" fill="#54fcfc"/><rect x="1273" y="614" width="5" height="98" fill="#54fcfc"/><rect x="1279" y="631" width="5" height="81" fill="#54fcfc"/><rect x="1285.5" y="632.5" width="4" height="79" fill="none" stroke="#ff3232"/><rect x="1292.5" y="631.5" width="4" height="80" fill="none" stroke="#ff3232"/><rect x="1298" y="629" width="5" height="83" fill="#54fcfc"/><rect x="1304.5" y="614.5" width="4" height="97" fill="none" stroke="#ff3232"/><rect x="1311" y="629" width="5" height="83" fill="#54fcfc"/><rect x="1317.5" y="628.5" width="4" height="83" fill="none" stroke="#ff3232"/><rect x="1323" y="625" width="5" height="87" fill="#54fcfc"/><rect x="1329" y="638" width="5" height="74" fill="#54fcfc"/><rect x="1336" y="640" width="5" height="72" fill="#54fcfc"/><rect x="1342.5" y="632.5" width="4" height="79" fill="none" stroke="#ff3232"/><rect x="1348.5" y="612.5" width="4" height="99" fill="none" stroke="#ff3232"/><rect x="1355" y="604" width="5" height="108" fill="#54fcfc"/><rect x="1361.5" y="620.5" width="4" height="91" fill="none" stroke="#ff3232"/><rect x="1367" y="616" width="5" height="96" fill="#54fcfc"/><rect x="1373" y="614" width="5" height="98" fill="#54fcfc"/><rect x="1380.5" y="631.5" width="4" height="80" fill="none" stroke="#ff3232"/><rect x="1386" y="616" width="5" height="96" fill="#54fcfc"/><rect x="1392" y="626" width="5" height="86" fill="#54fcfc"/><rect x="1399.5" y="643.5" width="4" height="68" fill="none" stroke="#ff3232"/><rect x="1405" y="638" width="5" height="74" fill="#54fcfc"/><rect x="1411.5" y="632.5" width="4" height="79" fill="none" stroke="#ff3232"/><rect x="1417.5" y="624.5" width="4" height="87" fill="none" stroke="#ff3232"/><rect x="1424" y="629" width="5" height="83" fill="#54fcfc"/><rect x="1430.5" y="632.5" width="4" height="79" fill="none" stroke="#ff3232"/><rect x="1436" y="626" width="5" height="86" fill="#54fcfc"/><rect x="1443" y="635" width="5" height="77" fill="#54fcfc"/><polyline points="5.5,670.5 11.5,670.5 18.5,670.5 24.5,670.5 30.5,670.5 37.5,670.5 43.5,670.5 49.5,670.5 55.5,670.5 62.5,671.0 68.5,670.2 74.5,669.9 81.5,670.0 87.5,671.3 93.5,672.0 99.5,672.9 106.5,673.7 112.5,674.6 118.5,675.8 125.5,676.7 131.5,677.8 137.5,678.5 143.5,678.6 150.5,677.4 156.5,676.9 162.5,676.6 169.5,676.2 175.5,676.3 181.5,675.5 187.5,674.8 194.5,674.5 200.5,673.1 206.5,672.3 213.5,671.9 219.5,672.0 225.5,672.1 231.5,671.7 238.5,671.2 244.5,671.1 250.5,670.5 257.5,668.7 263.5,668.2 269.5,668.0 275.5,668.5 282.5,667.9 288.5,667.6 294.5,667.7 301.5,666.8 307.5,665.7 313.5,665.5 319.5,665.7 326.5,666.3 332.5,666.9 338.5,667.9 345.5,668.9 351.5,668.8 357.5,669.8 363.5,671.1 370.5,672.7 376.5,674.1 382.5,675.2 389.5,676.1 395.5,676.6 401.5,676.6 407.5,676.8 414.5,677.7 420.5,677.4 426.5,677.4 433.5,677.5 439.5,677.6 445.5,678.6 451.5,678.9 458.5,678.6 464.5,678.5 470.5,678.8 477.5,678.9 483.5,679.2 489.5,679.4 495.5,679.0 502.5,678.5 508.5,678.1 514.5,677.3 521.5,677.4 527.5,677.7 533.5,677.7 539.5,677.3 546.5,676.5 552.5,676.4 558.5,676.8 565.5,676.4 571.5,676.5 577.5,676.5 583.5,677.2 590.5,676.7 596.5,675.8 602.5,676.1 609.5,676.7 615.5,677.0 621.5,677.5 627.5,677.2 634.5,676.5 640.5,676.9 646.5,676.2 653.5,676.1 659.5,676.6 665.5,675.6 671.5,673.3 678.5,671.5 684.5,670.4 690.5,670.9 697.5,671.5 703.5,671.8 709.5,671.6 715.5,671.8 722.5,670.4 728.5,668.9 734.5,668.8 741.5,669.4 747.5,668.3 753.5,668.0 759.5,667.9 766.5,665.8 772.5,662.4 778.5,660.0 785.5,659.3 791.5,659.0 797.5,659.5 803.5,658.2 810.5,658.4 816.5,658.2 822.5,656.6 829.5,658.2 835.5,661.6 841.5,663.1 847.5,664.1 854.5,666.0 860.5,665.7 866.5,666.3 873.5,666.2 879.5,666.0 885.5,667.3 891.5,667.1 898.5,667.3 904.5,668.2 910.5,668.8 917.5,668.6 923.5,670.5 929.5,671.8 935.5,673.4 942.5,674.7 948.5,675.6 954.5,676.2 961.5,675.3 967.5,675.5 973.5,675.5 979.5,676.1 986.5,676.6 992.5,676.1 998.5,674.6 1005.5,672.7 1011.5,671.0 1017.5,668.6 1023.5,668.0 1030.5,666.8 1036.5,666.1 1042.5,664.9 1049.5,663.4 1055.5,662.9 1061.5,663.5 1067.5,664.4 1074.5,665.2 1080.5,667.4 1086.5,668.2 1093.5,668.9 1099.5,669.3 1105.5,669.7 1111.5,670.9 1118.5,671.0 1124.5,671.1 1130.5,671.2 1137.5,670.3 1143.5,667.8 1149.5,666.4 1155.5,664.9 1162.5,661.8 1168.5,657.6 1174.5,654.1 1181.5,649.6 1187.5,645.5 1193.5,637.8 1199.5,630.0 1206.5,625.8 1212.5,623.3 1218.5,621.2 1225.5,617.1 1231.5,614.0 1237.5,607.6 1243.5,602.9 1250.5,597.2 1256.5,597.0 1262.5,595.4 1269.5,592.8 1275.5,591.1 1281.5,590.8 1287.5,594.4 1294.5,598.0 1300.5,603.1 1306.5,606.8 1313.5,612.4 1319.5,616.2 1325.5,621.9 1331.5,627.2 1338.5,629.8 1344.5,629.9 1350.5,627.8 1357.5,625.1 1363.5,624.2 1369.5,624.4 1375.5,622.9 1382.5,623.3 1388.5,622.3 1394.5,621.1 1401.5,621.4 1407.5,622.1 1413.5,624.1 1419.5,626.1 1426.5,627.0 1432.5,628.6 1438.5,629.8 1445.5,630.2" fill="none" stroke="#ffff00" stroke-width="1.25" stroke-linejoin="round" shape-rendering="auto"/><polyline points="5.5,671.5 11.5,671.5 18.5,671.5 24.5,671.5 30.5,672.4 37.5,671.0 43.5,669.5 49.5,668.2 55.5,669.0 62.5,669.5 68.5,669.5 74.5,670.3 81.5,671.7 87.5,673.6 93.5,674.5 99.5,676.4 106.5,677.2 112.5,677.6 118.5,677.9 125.5,678.8 131.5,679.2 137.5,679.9 143.5,679.5 150.5,676.8 156.5,675.0 162.5,674.0 169.5,672.5 175.5,673.1 181.5,674.1 187.5,674.5 194.5,675.0 200.5,673.6 206.5,671.5 213.5,669.7 219.5,669.4 225.5,669.2 231.5,669.7 238.5,670.9 244.5,672.6 250.5,671.7 257.5,668.2 263.5,666.7 269.5,665.2 275.5,664.5 282.5,664.1 288.5,667.0 294.5,668.7 301.5,668.5 307.5,667.0 313.5,666.8 319.5,664.5 326.5,663.9 332.5,665.2 338.5,668.8 345.5,671.0 351.5,673.1 357.5,675.8 363.5,676.9 370.5,676.6 376.5,677.2 382.5,677.3 389.5,676.5 395.5,676.4 401.5,676.6 407.5,676.4 414.5,678.1 420.5,678.2 426.5,678.5 433.5,678.5 439.5,678.9 445.5,679.0 451.5,679.7 458.5,678.8 464.5,678.5 470.5,678.6 477.5,678.7 483.5,678.7 489.5,680.0 495.5,679.4 502.5,678.4 508.5,677.5 514.5,675.8 521.5,674.8 527.5,675.9 533.5,677.0 539.5,677.0 546.5,677.3 552.5,678.0 558.5,677.7 565.5,675.7 571.5,675.9 577.5,675.7 583.5,676.4 590.5,675.7 596.5,675.8 602.5,676.2 609.5,677.7 615.5,677.7 621.5,679.4 627.5,678.5 634.5,676.7 640.5,676.2 646.5,674.8 653.5,672.8 659.5,674.6 665.5,674.6 671.5,670.3 678.5,668.2 684.5,668.0 690.5,667.3 697.5,668.4 703.5,673.2 709.5,675.0 715.5,675.5 722.5,673.5 728.5,669.4 734.5,664.4 741.5,663.7 747.5,661.1 753.5,662.6 759.5,666.5 766.5,667.3 772.5,661.1 778.5,658.8 785.5,655.9 791.5,651.5 797.5,651.7 803.5,655.3 810.5,658.0 816.5,660.6 822.5,661.7 829.5,664.7 835.5,668.0 841.5,668.2 847.5,667.6 854.5,670.4 860.5,666.6 866.5,664.6 873.5,664.2 879.5,664.3 885.5,664.2 891.5,667.7 898.5,670.0 904.5,672.2 910.5,673.2 917.5,673.1 923.5,673.4 929.5,673.7 935.5,674.6 942.5,676.2 948.5,678.2 954.5,679.0 961.5,676.9 967.5,676.4 973.5,674.8 979.5,674.1 986.5,674.2 992.5,675.4 998.5,672.9 1005.5,670.6 1011.5,667.8 1017.5,663.0 1023.5,660.7 1030.5,660.7 1036.5,661.6 1042.5,662.0 1049.5,663.7 1055.5,665.1 1061.5,666.2 1067.5,667.1 1074.5,668.5 1080.5,671.0 1086.5,671.4 1093.5,671.5 1099.5,671.5 1105.5,670.9 1111.5,670.9 1118.5,670.5 1124.5,670.7 1130.5,670.8 1137.5,669.7 1143.5,664.8 1149.5,662.4 1155.5,659.1 1162.5,652.7 1168.5,645.5 1174.5,643.4 1181.5,636.8 1187.5,631.9 1193.5,622.8 1199.5,614.5 1206.5,608.2 1212.5,609.8 1218.5,610.5 1225.5,611.4 1231.5,613.5 1237.5,606.9 1243.5,596.1 1250.5,583.9 1256.5,582.6 1262.5,577.2 1269.5,578.7 1275.5,586.1 1281.5,597.8 1287.5,606.2 1294.5,618.8 1300.5,627.4 1306.5,627.5 1313.5,627.1 1319.5,626.2 1325.5,625.0 1331.5,626.9 1338.5,632.0 1344.5,632.6 1350.5,629.4 1357.5,625.1 1363.5,621.5 1369.5,616.8 1375.5,613.3 1382.5,617.1 1388.5,619.5 1394.5,620.7 1401.5,626.0 1407.5,630.8 1413.5,631.0 1419.5,632.6 1426.5,633.3 1432.5,631.1 1438.5,628.7 1445.5,629.4" fill="none" stroke="#ffffff" stroke-width="1.25" stroke-linejoin="round" shape-rendering="auto"/><polyline points="5.5,793.6 11.5,838.4 18.5,835.8 24.5,795.6 30.5,767.7 37.5,793.8 43.5,818.6 49.5,862.8 55.5,874.2 62.5,885.9 68.5,887.7 74.5,872.1 81.5,872.7 87.5,870.7 93.5,847.1 99.5,835.4 106.5,828.9 112.5,840.7 118.5,856.9 125.5,832.6 131.5,850.4 137.5,861.0 143.5,865.4 150.5,865.9 156.5,857.1 162.5,866.3 169.5,854.5 175.5,852.4 181.5,840.6 187.5,841.7 194.5,833.9 200.5,787.1 206.5,771.4 213.5,750.8 219.5,778.5 225.5,823.7 231.5,840.6 238.5,813.2 244.5,789.8 250.5,795.9 257.5,765.5 263.5,755.2 269.5,752.0 275.5,749.3 282.5,765.2 288.5,796.8 294.5,795.8 301.5,782.7 307.5,777.5 313.5,770.7 319.5,802.6 326.5,831.5 332.5,865.2 338.5,876.1 345.5,887.9 351.5,878.3 357.5,883.6 363.5,881.5 370.5,862.8 376.5,864.1 382.5,838.3 389.5,813.9 395.5,791.4 401.5,770.2 407.5,791.6 414.5,817.7 420.5,855.2 426.5,853.1 433.5,836.9 439.5,840.2 445.5,830.1 451.5,829.4 458.5,795.5 464.5,764.3 470.5,761.0 477.5,781.4 483.5,832.1 489.5,840.4 495.5,832.5 502.5,850.7 508.5,851.6 514.5,861.5 521.5,875.1 527.5,872.1 533.5,875.6 539.5,855.0 546.5,866.5 552.5,868.9 558.5,848.3 565.5,827.8 571.5,807.1 577.5,760.3 583.5,746.9 590.5,742.1 596.5,754.1 602.5,762.1 609.5,826.7 615.5,859.3 621.5,871.1 627.5,880.5 634.5,871.1 640.5,871.9 646.5,875.3 653.5,866.5 659.5,872.9 665.5,845.2 671.5,798.6 678.5,776.6 684.5,773.1 690.5,780.2 697.5,790.5 703.5,803.6 709.5,806.9 715.5,800.8 722.5,801.0 728.5,767.2 734.5,764.5 741.5,763.3 747.5,766.2 753.5,778.4 759.5,789.3 766.5,769.4 772.5,764.6 778.5,772.9 785.5,761.0 791.5,766.6 797.5,777.9 803.5,819.2 810.5,830.1 816.5,841.5 822.5,874.7 829.5,883.5 835.5,876.6 841.5,853.3 847.5,858.6 854.5,841.8 860.5,788.0 866.5,755.1 873.5,748.1 879.5,779.8 885.5,805.5 891.5,832.0 898.5,834.1 904.5,830.9 910.5,836.7 917.5,866.0 923.5,866.5 929.5,865.3 935.5,874.2 942.5,866.8 948.5,862.4 954.5,850.1 961.5,847.0 967.5,851.7 973.5,864.8 979.5,853.8 986.5,865.1 992.5,870.3 998.5,829.3 1005.5,787.0 1011.5,771.5 1017.5,770.9 1023.5,770.3 1030.5,772.9 1036.5,791.7 1042.5,782.8 1049.5,777.1 1055.5,819.2 1061.5,807.1 1067.5,790.6 1074.5,821.0 1080.5,841.5 1086.5,819.1 1093.5,811.1 1099.5,823.3 1105.5,837.8 1111.5,862.9 1118.5,868.8 1124.5,809.8 1130.5,766.5 1137.5,746.6 1143.5,740.9 1149.5,742.2 1155.5,750.4 1162.5,748.2 1168.5,757.5 1174.5,762.1 1181.5,775.4 1187.5,764.2 1193.5,758.8 1199.5,769.4 1206.5,785.1 1212.5,787.5 1218.5,776.6 1225.5,773.9 1231.5,763.2 1237.5,758.2 1243.5,765.2 1250.5,785.3 1256.5,769.9 1262.5,765.0 1269.5,788.9 1275.5,829.0 1281.5,849.1 1287.5,839.4 1294.5,830.4 1300.5,835.4 1306.5,828.5 1313.5,826.3 1319.5,839.2 1325.5,864.2 1331.5,859.6 1338.5,869.1 1344.5,822.2 1350.5,771.2 1357.5,757.8 1363.5,747.1 1369.5,744.0 1375.5,766.9 1382.5,778.9 1388.5,794.5 1394.5,821.4 1401.5,856.9 1407.5,880.6 1413.5,860.7 1419.5,834.7 1426.5,828.2 1432.5,803.7 1438.5,800.8 1445.5,804.7" fill="none" stroke="#ff00ff" stroke-width="1.25" stroke-linejoin="round" shape-rendering="auto"/><polyline points="5.5,784.1 11.5,791.8 18.5,798.1 24.5,797.7 30.5,793.5 37.5,793.5 43.5,797.1 49.5,806.5 55.5,816.1 62.5,826.1 68.5,834.9 74.5,840.2 81.5,844.9 87.5,848.6 93.5,848.4 99.5,846.5 106.5,844.0 112.5,843.5 118.5,845.4 125.5,843.6 131.5,844.6 137.5,846.9 143.5,849.6 150.5,851.9 156.5,852.6 162.5,854.6 169.5,854.6 175.5,854.3 181.5,852.3 187.5,850.8 194.5,848.4 200.5,839.6 206.5,829.9 213.5,818.6 219.5,812.9 225.5,814.4 231.5,818.2 238.5,817.4 244.5,813.5 250.5,811.0 257.5,804.5 263.5,797.4 269.5,790.9 275.5,785.0 282.5,782.2 288.5,784.3 294.5,785.9 301.5,785.4 307.5,784.3 313.5,782.4 319.5,785.2 326.5,791.9 332.5,802.3 338.5,812.9 345.5,823.6 351.5,831.4 357.5,838.9 363.5,845.0 370.5,847.5 376.5,849.9 382.5,848.2 389.5,843.3 395.5,835.9 401.5,826.5 407.5,821.5 414.5,821.0 420.5,825.9 426.5,829.8 433.5,830.8 439.5,832.1 445.5,831.8 451.5,831.5 458.5,826.3 464.5,817.5 470.5,809.4 477.5,805.4 483.5,809.2 489.5,813.7 495.5,816.4 502.5,821.3 508.5,825.6 514.5,830.7 521.5,837.1 527.5,842.1 533.5,846.9 539.5,848.0 546.5,850.7 552.5,853.3 558.5,852.6 565.5,849.0 571.5,843.0 577.5,831.2 583.5,819.2 590.5,808.2 596.5,800.4 602.5,795.0 609.5,799.5 615.5,808.0 621.5,817.0 627.5,826.1 634.5,832.5 640.5,838.2 646.5,843.5 653.5,846.7 659.5,850.5 665.5,849.7 671.5,842.4 678.5,833.0 684.5,824.5 690.5,818.1 697.5,814.2 703.5,812.7 709.5,811.9 715.5,810.3 722.5,809.0 728.5,803.0 734.5,797.5 741.5,792.6 747.5,788.8 753.5,787.4 759.5,787.6 766.5,785.0 772.5,782.1 778.5,780.8 785.5,778.0 791.5,776.3 797.5,776.6 803.5,782.7 810.5,789.4 816.5,796.9 822.5,808.0 829.5,818.8 835.5,827.0 841.5,830.8 847.5,834.8 854.5,835.8 860.5,828.9 866.5,818.4 873.5,808.3 879.5,804.3 885.5,804.4 891.5,808.4 898.5,812.0 904.5,814.7 910.5,817.9 917.5,824.8 923.5,830.7 929.5,835.7 935.5,841.2 942.5,844.8 948.5,847.3 954.5,847.7 961.5,847.6 967.5,848.2 973.5,850.6 979.5,851.0 986.5,853.0 992.5,855.5 998.5,851.8 1005.5,842.5 1011.5,832.4 1017.5,823.6 1023.5,816.0 1030.5,809.8 1036.5,807.2 1042.5,803.7 1049.5,799.9 1055.5,802.7 1061.5,803.3 1067.5,801.5 1074.5,804.3 1080.5,809.6 1086.5,811.0 1093.5,811.0 1099.5,812.8 1105.5,816.3 1111.5,823.0 1118.5,829.5 1124.5,826.7 1130.5,818.1 1137.5,807.9 1143.5,798.3 1149.5,790.3 1155.5,784.6 1162.5,779.4 1168.5,776.3 1174.5,774.2 1181.5,774.4 1187.5,772.9 1193.5,770.9 1199.5,770.7 1206.5,772.8 1212.5,774.9 1218.5,775.1 1225.5,774.9 1231.5,773.3 1237.5,771.1 1243.5,770.3 1250.5,772.4 1256.5,772.1 1262.5,771.1 1269.5,773.6 1275.5,781.5 1281.5,791.2 1287.5,798.1 1294.5,802.7 1300.5,807.4 1306.5,810.4 1313.5,812.7 1319.5,816.5 1325.5,823.3 1331.5,828.5 1338.5,834.3 1344.5,832.5 1350.5,823.8 1357.5,814.4 1363.5,804.7 1369.5,796.1 1375.5,791.9 1382.5,790.0 1388.5,790.7 1394.5,795.1 1401.5,803.9 1407.5,814.9 1413.5,821.4 1419.5,823.3 1426.5,824.0 1432.5,821.1 1438.5,818.2 1445.5,816.3" fill="none" stroke="#ffff00" stroke-width="1.25" stroke-linejoin="round" shape-rendering="auto"/><polyline points="5.5,787.2 11.5,807.4 18.5,810.7 24.5,797.0 30.5,784.9 37.5,793.6 43.5,804.3 49.5,825.2 55.5,835.5 62.5,846.1 68.5,852.5 74.5,850.9 81.5,854.1 87.5,855.9 93.5,847.9 99.5,842.8 106.5,839.0 112.5,842.6 118.5,849.2 125.5,839.9 131.5,846.5 137.5,851.6 143.5,854.8 150.5,856.5 156.5,854.1 162.5,858.5 169.5,854.5 175.5,853.6 181.5,848.4 187.5,847.8 194.5,843.6 200.5,822.1 206.5,810.4 213.5,796.0 219.5,801.4 225.5,817.5 231.5,825.6 238.5,816.0 244.5,805.6 250.5,806.0 257.5,791.5 263.5,783.4 269.5,778.0 275.5,773.1 282.5,776.5 288.5,788.4 294.5,789.2 301.5,784.5 307.5,782.0 313.5,778.5 319.5,791.0 326.5,805.1 332.5,823.3 338.5,834.0 345.5,845.0 351.5,847.1 357.5,853.8 363.5,857.2 370.5,852.6 376.5,854.6 382.5,844.9 389.5,833.5 395.5,821.1 401.5,807.8 407.5,811.6 414.5,819.9 420.5,835.7 426.5,837.5 433.5,832.8 439.5,834.8 445.5,831.3 451.5,830.8 458.5,816.0 464.5,799.7 470.5,793.3 477.5,797.4 483.5,816.8 489.5,822.6 495.5,821.8 502.5,831.1 508.5,834.3 514.5,841.0 521.5,849.7 527.5,852.1 533.5,856.4 539.5,850.3 546.5,856.0 552.5,858.5 558.5,851.2 565.5,841.9 571.5,831.1 577.5,807.6 583.5,795.1 590.5,786.2 596.5,785.0 602.5,784.0 609.5,808.5 615.5,825.1 621.5,835.1 627.5,844.2 634.5,845.4 640.5,849.4 646.5,854.1 653.5,853.3 659.5,857.9 665.5,848.2 671.5,827.8 678.5,814.2 684.5,807.3 690.5,805.5 697.5,806.3 703.5,809.7 709.5,810.2 715.5,807.1 722.5,806.3 728.5,791.1 734.5,786.5 741.5,782.9 747.5,781.3 753.5,784.4 759.5,788.2 766.5,779.8 772.5,776.3 778.5,778.2 785.5,772.3 791.5,773.1 797.5,777.0 803.5,794.8 810.5,803.0 816.5,811.7 822.5,830.2 829.5,840.3 835.5,843.5 841.5,838.3 847.5,842.7 854.5,837.8 860.5,815.3 866.5,797.3 873.5,788.3 879.5,796.1 885.5,804.8 891.5,816.3 898.5,819.4 904.5,820.1 910.5,824.2 917.5,838.5 923.5,842.7 929.5,845.5 935.5,852.2 942.5,852.1 948.5,852.3 954.5,848.5 961.5,847.4 967.5,849.3 973.5,855.3 979.5,852.0 986.5,857.0 992.5,860.4 998.5,844.3 1005.5,824.0 1011.5,812.1 1017.5,806.0 1023.5,800.7 1030.5,797.5 1036.5,802.0 1042.5,796.8 1049.5,792.3 1055.5,808.2 1061.5,804.6 1067.5,797.9 1074.5,809.9 1080.5,820.2 1086.5,813.7 1093.5,811.0 1099.5,816.3 1105.5,823.5 1111.5,836.3 1118.5,842.6 1124.5,821.1 1130.5,800.9 1137.5,787.5 1143.5,779.2 1149.5,774.3 1155.5,773.2 1162.5,769.0 1168.5,770.0 1174.5,770.2 1181.5,774.7 1187.5,770.0 1193.5,766.9 1199.5,770.3 1206.5,776.9 1212.5,779.1 1218.5,775.6 1225.5,774.6 1231.5,769.9 1237.5,766.8 1243.5,768.6 1250.5,776.7 1256.5,771.3 1262.5,769.1 1269.5,778.7 1275.5,797.3 1281.5,810.5 1287.5,811.9 1294.5,811.9 1300.5,816.7 1306.5,816.4 1313.5,817.2 1319.5,824.0 1325.5,836.9 1331.5,838.9 1338.5,845.9 1344.5,829.1 1350.5,806.3 1357.5,795.5 1363.5,785.5 1369.5,778.7 1375.5,783.6 1382.5,786.3 1388.5,792.0 1394.5,803.9 1401.5,821.6 1407.5,836.8 1413.5,834.5 1419.5,827.1 1426.5,825.4 1432.5,815.3 1438.5,812.4 1445.5,812.4" fill="none" stroke="#ffffff" stroke-width="1.25" stroke-linejoin="round" shape-rendering="auto"/><g shape-rendering="auto"><g shape-rendering="auto"><text x="210.20" y="30.5" font-size="18" textLength="109.93" lengthAdjust="spacing" fill="#ffffff" fill-opacity="0.8" xml:space="preserve">MA5: 1703.82</text><text x="329.20" y="30.5" font-size="18" textLength="120.54" lengthAdjust="spacing" fill="#ffff00" fill-opacity="0.8" xml:space="preserve">MA10: 1699.70</text><text x="457.40" y="30.5" font-size="18" textLength="121.73" lengthAdjust="spacing" fill="#ff00ff" fill-opacity="0.8" xml:space="preserve">MA20: 1706.33</text><text x="586.60" y="30.5" font-size="18" textLength="131.54" lengthAdjust="spacing" fill="#00e600" fill-opacity="0.8" xml:space="preserve">MA250: 1507.70</text></g><path d="M190.8,24.6 L198.6,15.4 L206.4,24.6 L202.2,24.6 L202.2,32.2 L195.5,32.2 L195.5,24.6 Z" fill="#ff0000"/><g shape-rendering="auto"><text x="2.60" y="557.4" font-size="18" textLength="191.20" lengthAdjust="spacing" fill="#f0f0f0" fill-opacity="0.8" xml:space="preserve">VOLUME: 93033376.00</text><text x="201.60" y="557.4" font-size="18" textLength="151.53" lengthAdjust="spacing" fill="#f0f0f0" fill-opacity="0.8" xml:space="preserve">MA5: 99604208.00</text><text x="362.00" y="557.4" font-size="18" textLength="162.28" lengthAdjust="spacing" fill="#ffff00" fill-opacity="0.8" xml:space="preserve">MA10: 98585128.00</text></g><g shape-rendering="auto"><text x="3.30" y="733.1" font-size="18" textLength="85.90" lengthAdjust="spacing" fill="#c8c8c8" fill-opacity="0.8" xml:space="preserve">KDJ(9,3,3)</text><text x="96.40" y="733.1" font-size="18" textLength="67.57" lengthAdjust="spacing" fill="#f0f0f0" fill-opacity="0.8" xml:space="preserve">K: 50.79</text><text x="171.80" y="733.1" font-size="18" textLength="68.50" lengthAdjust="spacing" fill="#ffff00" fill-opacity="0.8" xml:space="preserve">D: 48.09</text><text x="246.60" y="733.1" font-size="18" textLength="64.69" lengthAdjust="spacing" fill="#ff00ff" fill-opacity="0.8" xml:space="preserve">J: 56.18</text></g></g><rect x="2" y="44" width="1465" height="1" fill="#0000f0"/><rect x="2" y="139" width="1465" height="1" fill="#0000f0"/><rect x="2" y="199" width="1465" height="1" fill="#0000f0"/><rect x="2" y="292" width="1465" height="1" fill="#0000f0"/><rect x="2" y="347" width="1465" height="1" fill="#0000f0"/><path d="M3.5,21.5 L8.5,15.5 L14.5,21.5 M5.5,22.5 L12.5,22.5 L12.5,28.5 L8.5,28.5 M5.5,22.5 L5.5,32.5 L14.5,32.5 L14.5,29.5 M16.5,19.5 L16.5,29.5 M19.5,15.5 L19.5,33.5 L17.5,32.5 M25.5,15.5 L25.5,32.5 M32.5,15.5 L32.5,32.5 M22.5,22.5 L24.5,27.5 M37.5,22.5 L34.5,27.5 M21.5,32.5 L38.5,32.5 M39.5,20.5 L46.5,20.5 M43.5,15.5 L43.5,33.5 M43.5,22.5 L40.5,28.5 M44.5,22.5 L46.5,25.5 M48.5,17.5 L56.5,16.5 M48.5,17.5 L48.5,26.5 L47.5,31.5 M49.5,22.5 L55.5,22.5 L49.5,33.5 M50.5,26.5 L56.5,33.5 M57.5,20.5 L63.5,20.5 M61.5,15.5 L61.5,33.5 L59.5,32.5 M57.5,27.5 L63.5,24.5 M66.5,15.5 L66.5,21.5 L73.5,21.5 L73.5,20.5 M66.5,19.5 L73.5,16.5 M66.5,24.5 L73.5,24.5 L73.5,33.5 L66.5,33.5 L66.5,24.5 M66.5,28.5 L73.5,28.5 M81.5,16.5 L78.5,19.5 L77.5,25.5 L78.5,30.5 L81.5,33.5 M83.5,17.5 L93.5,17.5 L93.5,33.5 L83.5,33.5 L83.5,17.5 M83.5,25.5 L93.5,25.5 M103.5,16.5 L100.5,21.5 L104.5,21.5 L100.5,27.5 L104.5,26.5 M99.5,32.5 L105.5,29.5 M106.5,21.5 L114.5,20.5 M106.5,25.5 L115.5,24.5 M108.5,16.5 L114.5,33.5 M112.5,16.5 L113.5,18.5 M110.5,30.5 L107.5,33.5 M119.5,30 L119.5,31.5 M125.5,16.5 L126.5,18.5 M133.5,16.5 L132.5,18.5 M122.5,19.5 L137.5,19.5 M123.5,33.5 L123.5,22.5 L129.5,22.5 L129.5,33.5 L128.5,32.5 M123.5,25.5 L129.5,25.5 M123.5,28.5 L129.5,28.5 M132.5,23.5 L132.5,30.5 M136.5,22.5 L136.5,33.5 L134.5,32.5 M143.5,15.5 L140.5,19.5 M142.5,17.5 L155.5,17.5 M143.5,19.5 L154.5,19.5 L154.5,26.5 L143.5,26.5 L143.5,19.5 M143.5,22.5 L154.5,22.5 M146.5,27.5 L141.5,31.5 M145.5,28.5 L153.5,28.5 L142.5,33.5 M147.5,30.5 L156.5,33.5 M158.5,20.5 L165.5,20.5 M162.5,15.5 L162.5,33.5 M162.5,22.5 L159.5,28.5 M162.5,22.5 L165.5,25.5 M166.5,17.5 L174.5,17.5 L166.5,33.5 M167.5,20.5 L175.5,33.5 M177.5,16.5 L180.5,19.5 L181.5,25.5 L180.5,30.5 L177.5,33.5" fill="none" stroke="#c0c0c0" stroke-width="1.15" shape-rendering="auto"/><path d="M2,449 L15,466 L15,513 L2,530 Z" fill="#2e2e2e" stroke="#6a6a6a" stroke-width="1.5" shape-rendering="auto"/><path d="M3.5,481 L11,488 L3.5,495 Z" fill="#e8a000" shape-rendering="auto"/></svg></body></html>
